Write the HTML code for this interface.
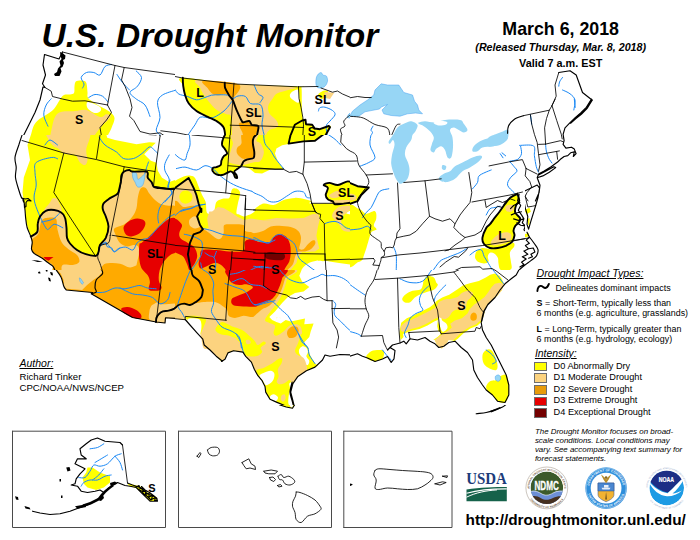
<!DOCTYPE html>
<html><head><meta charset="utf-8">
<style>
html,body{margin:0;padding:0;background:#fff;}
body{width:700px;height:540px;overflow:hidden;position:relative;font-family:"Liberation Sans",sans-serif;color:#000;}
.t{position:absolute;white-space:nowrap;line-height:1;}
#map{position:absolute;left:0;top:0;}
.lb{font-weight:bold;font-size:12.5px;transform:translate(-50%,-50%);}
.bx{position:absolute;left:533.9px;width:11.5px;height:7.8px;border:0.5px solid #6e6e6e;box-sizing:content-box;}
.lg{font-size:9.2px;left:553.6px;}
.bd{font-size:8.9px;left:536.6px;}
.ft{font-size:7.93px;font-style:italic;left:534.9px;}
u{text-decoration:underline;text-decoration-thickness:0.8px;text-underline-offset:1px;}
</style></head><body>
<svg id="map" width="700" height="540" viewBox="0 0 700 540">
<defs><clipPath id="c0"><rect x="0" y="0" width="175" height="135"/></clipPath><clipPath id="c1"><rect x="175" y="0" width="175" height="135"/></clipPath><clipPath id="c2"><rect x="350" y="0" width="175" height="135"/></clipPath><clipPath id="c3"><rect x="525" y="0" width="175" height="135"/></clipPath><clipPath id="c4"><rect x="0" y="135" width="175" height="135"/></clipPath><clipPath id="c5"><rect x="175" y="135" width="175" height="135"/></clipPath><clipPath id="c6"><rect x="350" y="135" width="175" height="135"/></clipPath><clipPath id="c7"><rect x="525" y="135" width="175" height="135"/></clipPath><clipPath id="c8"><rect x="0" y="270" width="175" height="135"/></clipPath><clipPath id="c9"><rect x="175" y="270" width="175" height="135"/></clipPath><clipPath id="c10"><rect x="350" y="270" width="175" height="135"/></clipPath><clipPath id="c11"><rect x="0" y="405" width="175" height="135"/></clipPath><clipPath id="c12"><rect x="175" y="405" width="175" height="135"/></clipPath><clipPath id="c13"><rect x="350" y="405" width="175" height="135"/></clipPath></defs>
<g clip-path="url(#c0)">
<path d="M75.8 81.5C76.8 80.5 78.9 80.5 80.5 80.5C82.1 80.5 84.4 80.5 85.5 81.5C86.6 82.5 86.7 84.4 87 86.2C87.3 88.1 87.2 90.5 87.5 92.5C87.8 94.5 86.5 96.2 88.5 98.5C90.5 100.8 95.9 103.8 99.5 106C103.1 108.2 107.5 110 110 112C112.5 114 114.2 115.3 114.5 118C114.8 120.7 112.9 124.3 111.5 128C110.1 131.7 107.1 135.5 106.2 140C105.4 144.5 119.8 152.5 106.2 155C92.7 157.5 37.6 158.1 25 155C12.4 151.9 28.6 141.8 30.5 136.2C32.4 130.8 32.5 126.4 36.2 122C40 117.6 48.6 114.3 53 110C57.4 105.7 59.7 98.6 62.5 96C65.3 93.4 68.1 95 70 94.5C71.9 94 73.2 94.4 74 93C74.8 91.6 74.2 88.2 74.5 86.2C74.8 84.3 74.8 82.5 75.8 81.5Z" fill="#ffff00"/>
<path d="M88 102C90 101.8 97.4 105 99.5 106.5C101.6 108 101.3 109.9 100.5 111C99.7 112.1 96.7 113.5 94.5 113C92.3 112.5 88.6 109.8 87.5 108C86.4 106.2 86 102.2 88 102Z" fill="#ffffff"/>
<path d="M57 114C61.2 109.8 70.1 111.7 75 111C79.9 110.3 82.1 109 86.2 110C90.4 111 96.7 116.3 100 117C103.3 117.7 104.5 114.2 106.2 114.2C108 114.2 111.5 114.8 110.5 117C109.5 119.2 103.5 123.7 100.5 127.5C97.5 131.3 93.8 135.4 92.5 140C91.2 144.6 100.4 152.5 92.5 155C84.6 157.5 52.1 158.1 45 155C37.9 151.9 48 143.1 50 136.2C52 129.4 52.8 118.2 57 114Z" fill="#fcd37f"/>
<path d="M111.5 64.5C110.4 64.8 106.9 64.8 105 66.5C103.1 68.2 101.9 74 100 75C98.1 76 96 72.9 93.8 72.5C91.5 72.1 88.6 71.7 86.5 72.5C84.4 73.3 81.7 75.6 81.2 77.5C80.8 79.4 83.8 82.2 84 84C84.2 85.8 82.8 87.3 82.5 88M88.8 97.5C89.8 97 92.7 94.7 95 94.5C97.3 94.3 100.3 95 102.5 96.2C104.7 97.5 107.1 101 108 102M136.2 71C137.1 72.1 141.3 75 141.5 77.5C141.7 80 139.4 83.8 137.5 86.2C135.6 88.8 130.2 90.4 130 92.5C129.8 94.6 133.8 96.9 136.2 99C138.8 101.1 142.7 102.1 145 105C147.3 107.9 149.2 114.6 150 116.5M117 74.5C117.9 75.8 120.4 79.9 122.5 82.5C124.6 85.1 128.3 88.8 129.5 90M51.2 98.8C50.4 99.8 47.5 102.3 46.2 105C45 107.7 43.5 111.5 43.8 115C44 118.5 47.3 124.4 48 126.2M176.2 90C174 90.8 165.6 92.9 162.5 95C159.4 97.1 157.9 98.8 157.5 102.5C157.1 106.2 160.2 112.9 160 117.5C159.8 122.1 156.2 127.1 156.2 130C156.3 132.9 159.8 134.2 160.5 135" fill="none" stroke="#1a88f5" stroke-width="1.0" stroke-linejoin="round" stroke-linecap="round"/>
<path d="M45 87.5L51.2 91.2L52.5 96.5L62.5 99L72.5 101.2L85 100.8L107.5 105M62.5 52L115 65.5L124.2 67.5L175 74.5L190 76.5M115 65.5L107.5 105M124.2 67.5L121.5 80L125 86.2L130 98.8L132 107.5L129.5 116.2L133.8 120.5L140 131.5L150 134L160 132.8L165 136.2M107.5 105L111.5 112.5L106.5 120L100 127.5L101.5 136.2M160.8 130.8L176.2 132.8" fill="none" stroke="#000" stroke-width="0.85" stroke-linejoin="round" stroke-linecap="round"/>
<path d="M62.5 52L59 59L44.5 54.5L43 65L45.5 75L42.5 83.8L45 87.5L43 87L40 100L35 112.5L28.8 125L23.8 135L20 145" fill="none" stroke="#000" stroke-width="1.15" stroke-linejoin="round" stroke-linecap="round"/>
<path d="M60 52L62.5 53L65.5 55.5L65 59L63 60L64 63L62.5 67L60.5 68L61.5 71.5L59.5 76L55 76L54 74L57 72L58 68.5L60.5 65.5L59.5 61.5L61.5 59L60.5 55.5Z" fill="#000"/>
</g>
<g clip-path="url(#c1)">
<path d="M182.8 77.8C191.4 77.5 215.7 82.5 235 84C254.3 85.5 287.4 85.8 298.5 86.5C309.6 87.2 301 84.9 301.5 88C302 91.1 301.6 100.1 301.8 105C301.9 109.9 301.9 115 302.5 117.5C303.1 120 304.9 118.6 305.5 119.8C306.1 120.9 304.9 123.4 306 124.2C307.1 125.1 310.8 124 312.2 124.8C313.7 125.5 313.5 127.8 314.8 128.5C316 129.2 317.4 129.7 319.8 129.2C322.1 128.8 327 126.3 328.8 126C330.5 125.7 331.1 125.5 330.5 127.2C329.9 129 325.9 132.5 325 136.2C324.1 140 341.6 147.7 325 150C308.4 152.3 241.9 152.5 225.2 150C208.6 147.5 225.5 138.8 225.2 135C225 131.2 225 129.6 223.5 127.2C222 124.9 219.1 122.8 216.5 121C213.9 119.2 211.1 118.4 207.8 116.8C204.4 115.1 199.7 113.2 196.5 111C193.3 108.8 190.7 106.2 188.8 103.5C186.8 100.8 185.9 97.7 185 94.8C184.1 91.8 183.6 88.6 183.2 85.8C182.9 82.9 174.1 78 182.8 77.8Z" fill="#ffff00"/>
<path d="M318 95C318.2 93.6 321.8 91.2 323.5 90.8C325.2 90.2 328.2 90.6 328 92C327.8 93.4 324.2 98.5 322.5 99C320.8 99.5 317.8 96.4 318 95Z" fill="#ffff00"/>
<path d="M290.2 94C290.8 93 292.1 91.6 293.5 91C294.9 90.4 297.6 88.4 298.5 90.2C299.4 92.1 299.6 100.6 298.8 102.2C297.9 103.9 294.9 101.1 293.5 100.2C292.1 99.4 290.8 98.3 290.2 97.2C289.7 96.2 289.7 95 290.2 94Z" fill="#ffffff"/>
<path d="M324.5 92L334.2 92.8L330 99L325 98Z" fill="#fcd37f"/>
<path d="M197 80C202.8 79.4 218.9 82.8 235 84C251.1 85.2 284.8 86.2 293.5 87.2C302.2 88.3 290 89.2 287.2 90.2C284.5 91.3 279.4 92.1 277 93.5C274.6 94.9 274.2 96.4 272.8 98.5C271.3 100.6 268.8 103.5 268.2 106C267.7 108.5 268.2 111.2 269.5 113.5C270.8 115.8 274.3 117.9 275.8 119.8C277.2 121.6 278.2 123.4 278.2 124.8C278.2 126.1 277.2 127.1 275.8 128C274.3 128.9 271.2 128.6 269.5 130C267.8 131.4 266.4 132.9 265.8 136.2C265.1 139.6 271.4 147.7 265.8 150C260.1 152.3 237.6 152.5 232 150C226.4 147.5 232.2 140.5 232 135C231.8 129.5 231.9 120.2 231 116.8C230.1 113.3 228.6 115.2 226.5 114.2C224.4 113.3 220.8 112.4 218.5 111C216.2 109.6 214.8 108.5 212.5 106C210.2 103.5 206.6 99.1 204.5 96C202.4 92.9 201.2 90.2 200 87.5C198.8 84.8 191.2 80.6 197 80Z" fill="#fcd37f"/>
<path d="M203.8 80.8C208.9 80.1 233.3 81.7 238.5 84.2C243.7 86.8 236.4 93.9 235 96C233.6 98.1 231.9 97.1 230.2 96.8C228.6 96.4 227.1 94.2 225.2 94C223.4 93.8 221.1 95.2 219 95.2C216.9 95.2 214.6 95.2 212.8 94C210.9 92.8 209.2 90.5 207.8 88.2C206.2 86 198.6 81.4 203.8 80.8Z" fill="#ffaa00"/>
<path d="M239 123.5C239.6 122.6 241.8 122.2 243.5 121.8C245.2 121.3 247.9 120.5 249.2 121C250.6 121.5 250.4 124 251.8 124.8C253.1 125.5 256.1 125 257.2 125.5C258.4 126 258.8 126.2 258.5 128C258.2 129.8 256 132.6 255.5 136.2C255 139.9 257.6 147.7 255.5 150C253.4 152.3 245.1 152.5 243 150C240.9 147.5 243.5 138.8 243 135C242.5 131.2 240.4 129.2 239.8 127.2C239.1 125.3 238.4 124.4 239 123.5Z" fill="#ffaa00"/>
<path d="M316 79.5C316.2 77.6 316.7 76.2 317.5 75C318.3 73.8 320.1 72.5 321 72.5C321.9 72.5 322.1 74.4 323 75C323.9 75.6 325.8 75.2 326.5 76.2C327.2 77.3 327.8 79.6 327.5 81.2C327.2 82.9 326.2 85.1 325 86.2C323.8 87.4 321.4 88 320 88C318.6 88 317.2 87.7 316.5 86.2C315.8 84.8 315.8 81.4 316 79.5Z" fill="#97d6f5" stroke="#45a0f0" stroke-width="0.5"/>
<path d="M347.5 117.5C346.7 116.8 348.8 113.8 350 113C351.2 112.2 354.2 112.2 355 113C355.8 113.8 356.2 116.8 355 117.5C353.8 118.2 348.3 118.2 347.5 117.5Z" fill="#97d6f5" stroke="#45a0f0" stroke-width="0.5"/>
<path d="M175 89.5C175.6 90.2 176.7 92.8 178.8 94C180.8 95.2 184.5 95.5 187.5 96.5C190.5 97.5 193.8 99.5 196.5 99.8C199.2 100 201.5 98.5 204 97.8C206.5 97 209 95.8 211.5 95.2C214 94.8 216.3 94.8 219 94.8C221.7 94.8 225.5 94.6 227.8 95.2C230 95.9 231 98.4 232.8 98.5C234.5 98.6 235.9 96.3 238 96C240.1 95.7 243.4 95.2 245.5 96.5C247.6 97.8 248 102.1 250.5 103.5C253 104.9 258.4 102.9 260.5 104.8C262.6 106.6 262.8 111.4 263 114.8C263.2 118.1 261.8 121.4 262 125C262.2 128.6 264.1 134.4 264.5 136.2M232.8 100.2C231.5 101.8 228 107.1 225.2 109.8C222.5 112.4 219 114.6 216.5 116C214 117.4 213 117.8 210.2 118C207.5 118.2 202.8 116.1 200.2 117.2C197.7 118.4 196.9 122 195 124.8C193.1 127.5 190.4 131.2 188.8 133.8C187.1 136.3 185.6 139 185 140M254.2 85.2C254.9 86.6 256.5 91.5 258 93.5C259.5 95.5 262.7 95.8 263 97.2C263.3 98.8 260.5 101.6 260 102.5M318.5 111C318.7 110.5 318.7 108.4 319.8 107.8C320.8 107.1 322.9 106.8 325 107.2C327.1 107.7 330.8 109.2 332.5 110.5C334.2 111.8 335.4 113 335 114.8C334.6 116.5 331.5 119.1 330 121C328.5 122.9 326.7 123.5 326.2 126C325.8 128.5 327.3 134.5 327.5 136.2" fill="none" stroke="#1a88f5" stroke-width="1.0" stroke-linejoin="round" stroke-linecap="round"/>
<path d="M172.5 76L182.5 78L235 84L297.5 86.8L318 86.5M321 88L332.5 92.2L337.5 91L342.5 94L350 97.2M234 83.2L230.2 136.2M230.2 125.2L263 126L303.5 127.5M298.5 86.5L299 98.5L301 107.2L302.8 117.2L303.5 124.8L302.8 136.2M349.5 115.5C348.5 116.4 344.5 119.2 343.8 121C343 122.8 345.5 124.6 345 126C344.5 127.4 340.9 127.5 340.5 129.2C340.1 131 342.2 135.1 342.5 136.2M173.8 132.2L183.8 134.2L190 135.5" fill="none" stroke="#000" stroke-width="0.85" stroke-linejoin="round" stroke-linecap="round"/>
<path d="M182.8 77.8C182.8 79.1 182.9 82.9 183.2 85.8C183.6 88.6 184.1 91.8 185 94.8C185.9 97.7 186.8 100.8 188.8 103.5C190.7 106.2 193.3 108.8 196.5 111C199.7 113.2 204.4 115.1 207.8 116.8C211.1 118.4 213.9 119.2 216.5 121C219.1 122.8 222 124.7 223.5 127.2C225 129.8 225 134.8 225.2 136.2M224.8 82.8C224.8 83.7 224.5 86.2 225.2 88.2C226 90.3 227.8 93.2 229 95.2C230.2 97.2 231.5 97.8 232.8 100.2C234 102.7 235 106.3 236.5 109.8C238 113.2 240.6 118.9 241.8 121C242.9 123.1 242.2 122.2 243.5 122.2C244.8 122.2 247.9 120.6 249.2 121C250.6 121.4 250.5 124 251.8 124.8C253 125.5 255.6 125.1 256.8 125.5C257.9 125.9 258.5 125.5 258.5 127.2C258.5 129 257 134.8 256.8 136.2M290.2 136.2L294.8 124.8L302.2 120.5L305.5 119.8L306 124.2L312.2 124.8L314.8 128.5L319.8 129.2L328.8 126L330 127.2L325 136.2" fill="none" stroke="#000" stroke-width="1.9" stroke-linejoin="round" stroke-linecap="round"/>
</g>
<g clip-path="url(#c2)">
<path d="M345 118.8L350 115.5L352.5 111.2L360 105L367.5 100L373.8 95L375 90L381.2 83.8L387.5 85L398.8 85L403.8 92.5L412.5 95L414.5 101.2L417.5 105L418.8 110L422.5 113.8L415.5 113L407.5 113.8L400 116.2L391.2 115.5L383.8 113.8L382 110L387.5 104.5L381.2 107L379.5 109L365 111.8L358.8 116.2L350 116.2L345 120Z" fill="#97d6f5" stroke="#45a0f0" stroke-width="0.5"/>
<path d="M411.2 121.2C413.5 121.5 416.8 123.3 417.5 125C418.2 126.7 416.3 129.6 415.5 131.2C414.7 132.9 413.2 133.5 412.5 135C411.8 136.5 412.3 137.9 411.2 140C410.2 142.1 407.3 145 406.2 147.5C405.2 150 404.7 152.5 405 155C405.3 157.5 407.2 160 408 162.5C408.8 165 409.6 167.3 409.5 170C409.4 172.7 408.9 176.5 407.5 178.8C406.1 181 402.9 183.3 401.2 183.8C399.6 184.2 398.8 182.9 397.5 181.2C396.2 179.6 394.8 176.7 393.8 173.8C392.7 170.8 391.5 166.9 391.2 163.8C391 160.6 391.5 158.1 392 155C392.5 151.9 394.3 147.5 394.5 145C394.7 142.5 393.8 140.2 393 140C392.2 139.8 390.7 143.5 390 143.8C389.3 144 388.1 142.9 388.8 141.2C389.4 139.6 392.3 136 393.8 133.8C395.2 131.5 395.8 129.2 397.5 127.5C399.2 125.8 401.5 124.8 403.8 123.8C406 122.7 409 121 411.2 121.2Z" fill="#97d6f5"/>
<path d="M418.8 122.5C419.8 122.1 422.3 121.2 425 121.2C427.7 121.2 431.7 122.7 435 122.5C438.3 122.3 440.8 120.4 445 120C449.2 119.6 456.9 119.4 460 120C463.1 120.6 462.5 122.1 463.8 123.8C465 125.4 467.5 128.5 467.5 130C467.5 131.5 465.2 132.5 463.8 132.5C462.3 132.5 460.4 130.8 458.8 130C457.1 129.2 455.2 127.5 453.8 127.5C452.3 127.5 450.2 128.3 450 130C449.8 131.7 452 134.6 452.5 137.5C453 140.4 453.2 144.2 453 147.5C452.8 150.8 452.2 155.8 451.2 157.5C450.3 159.2 448.5 158.8 447.5 157.5C446.5 156.2 446 151.9 445 150C444 148.1 442.7 146.5 441.2 146.2C439.8 146 437.5 147.7 436.2 148.8C435 149.8 434.7 152.3 433.8 152.5C432.8 152.7 430.8 151.5 430.5 150C430.2 148.5 431.5 145.8 432 143.8C432.5 141.7 434.1 139.6 433.8 137.5C433.4 135.4 431.7 133.1 430 131.2C428.3 129.4 425.6 127.5 423.8 126.2C421.9 125 419.6 124.4 418.8 123.8C417.9 123.1 417.7 122.9 418.8 122.5Z" fill="#97d6f5"/>
<path d="M442.5 165C443.2 164.6 445.8 165.4 446.2 166.2C446.7 167.1 445.7 169.6 445 170C444.3 170.4 442.4 169.6 442 168.8C441.6 167.9 441.8 165.4 442.5 165Z" fill="#97d6f5"/>
<path d="M438.8 178C439.2 176.8 441.9 174.9 443.8 173.8C445.6 172.6 448.1 172.5 450 171.2C451.9 170 452.9 167.7 455 166.2C457.1 164.8 459.6 164 462.5 162.5C465.4 161 469.6 158.7 472.5 157.5C475.4 156.3 478.4 155.5 480 155.5C481.6 155.5 482.4 156.3 482 157.5C481.6 158.7 479.5 160.8 477.5 162.5C475.5 164.2 472.5 166 470 167.5C467.5 169 465 169.4 462.5 171.2C460 173.1 457.5 177 455 178.8C452.5 180.5 449.8 181.6 447.5 182C445.2 182.4 442.7 181.9 441.2 181.2C439.8 180.6 438.3 179.2 438.8 178Z" fill="#97d6f5"/>
<path d="M472.5 151.2C471.9 150.4 472.5 147.9 473.8 146.2C475 144.6 477.3 142.7 480 141.2C482.7 139.8 486.7 138.8 490 137.5C493.3 136.2 497.1 134.2 500 133.8C502.9 133.3 506.3 134 507.5 135C508.7 136 508.2 138.3 507 140C505.8 141.7 502.4 144 500 145C497.6 146 495.4 145.8 492.5 146.2C489.6 146.7 485 146.7 482.5 147.5C480 148.3 479.2 150.6 477.5 151.2C475.8 151.9 473.1 152.1 472.5 151.2Z" fill="#97d6f5"/>
<path d="M488.1 138C489.4 136 493.1 135.3 495.6 134.3C498 133.2 501 132.3 503 131.5C505 130.7 506.7 129.2 507.6 129.6C508.5 130.1 508.7 132.6 508.5 134.3C508.4 136 507.9 138.3 506.7 139.8C505.4 141.4 503.3 142.4 501.1 143.5C499 144.6 495.9 145.9 493.7 146.3C491.5 146.7 489.1 147.3 488.1 145.9C487.2 144.5 486.9 139.9 488.1 138Z" fill="#97d6f5"/>
<path d="M433.8 122.5C434.5 121.9 437.8 120.8 440 120.8C442.2 120.7 446 121.4 447 122C448 122.6 447.2 123.9 446 124.5C444.8 125.1 441.8 125.5 440 125.5C438.2 125.5 436.5 125 435.5 124.5C434.5 124 433 123.1 433.8 122.5Z" fill="#ffffff"/>
<path d="M373 126.2C372.7 126.9 371.1 129 371 130C370.9 131 372.6 131.5 372.5 132.5C372.4 133.5 370.8 135.6 370.5 136.2M519.6 145.4C521.9 145.5 531 144.2 533.5 145.9C536 147.6 534 152.1 534.4 155.6C534.9 159 535.6 163.9 536.3 166.7C537 169.4 538.1 171.3 538.5 172.2M530.4 114.8L531.1 119.4L531.7 124.1M545.6 144.4C545.7 145.7 545.9 149.4 546.5 151.9C547.1 154.3 548.3 157.4 549.3 159.3C550.2 161.1 551.6 162.3 552 163M509.4 161.1C510.2 162 512.8 165 514.1 166.7C515.3 168.4 517.5 169.4 516.9 171.3C516.2 173.1 511.9 175.5 510.4 177.8C508.8 180.1 507 182.7 507.6 185.2C508.2 187.7 512.4 190.7 514.1 192.6C515.8 194.4 517.2 195.7 517.8 196.3M520.6 146.3C520.7 147.5 521.9 151.5 521.5 153.7C521 155.9 519.6 158 517.8 159.3C515.9 160.5 511.6 160.8 510.4 161.1M500.2 153.7L503 157.8M502 152.8L505.7 155.9M574.3 99.1L575.2 107.4" fill="none" stroke="#1a88f5" stroke-width="1.0" stroke-linejoin="round" stroke-linecap="round"/>
<path d="M348.8 98L357.5 96.5L365 97.5L371.2 97.5M348.8 116.2C350.4 116.4 356 116.6 358.8 117C361.5 117.4 362.3 117.5 365 118.8C367.7 120 371.2 122.9 375 124.5C378.8 126.1 385 126.1 387.5 128.2C390 130.4 389.6 136 390 137.5M391.2 136.2C392.1 134.5 394.8 127.5 396.2 125.5C397.7 123.5 399.4 124.5 400 124.2M523.3 115.7L549.3 110.2L552 105.6L555.2 99.1M530.4 114.8L531.7 124.1L534.4 134.3L537.2 142.6L538.5 153.7L540 164.8L538.5 171.3M549.3 110.2L546.5 118.5L544.6 127.8L545.2 137L545.6 144.4M552 105.6L556.7 120.4L561.3 134.3L562.2 138.9M538.5 144.4L545.6 144.1L560.4 140.7L563.1 141.7M539.1 154.6L559.4 150.9M556.7 151.5L557.6 159.3M526.1 168.5L537.2 174.1M526.1 168.5L525.2 175.9L529.8 181.5L531.7 187L527 192.6L525.2 196.3L528 200.9M489.1 165.9L508.5 162L522.4 159.6L526.1 168.5" fill="none" stroke="#000" stroke-width="0.85" stroke-linejoin="round" stroke-linecap="round"/>
<path d="M507.6 133.3C507.7 132.1 507.4 128.2 508.5 125.9C509.6 123.6 511.6 121.1 514.1 119.4C516.5 117.7 521.8 116.4 523.3 115.7M591.5 99.1L586.3 107.4L580.7 113L575.2 117.6L569.6 123.1L565 127.8L563.1 134.3L564.1 140.7L563.1 144.4L565.9 148.1L571.5 147.2L574.3 149.1L576.1 153.7L573.3 156.5L574.3 151.9L570.6 152.8L567.8 155.6L564.1 156.5L560.4 159.3L557.6 162L551.1 166.7L543.7 171.3L538.5 174.1L537.2 177.8L540 185.2L539.1 192.6L535.4 200.9M538.5 175L545.6 171.3L553.9 166.7L555.7 167.6L549.3 172.2L542.8 175.9L537.2 177.8" fill="none" stroke="#000" stroke-width="1.15" stroke-linejoin="round" stroke-linecap="round"/>
<path d="M591.5 99.1L586.3 107.4L580.7 113L575.2 117.6L569.6 123.1L570.7 124.1L576.3 118.9L582 114.4L587.6 108.7L593 100Z" fill="#000000"/>
</g>
<g clip-path="url(#c3)">
<path d="M488.1 138C489.4 136 493.1 135.3 495.6 134.3C498 133.2 501 132.3 503 131.5C505 130.7 506.7 129.2 507.6 129.6C508.5 130.1 508.7 132.6 508.5 134.3C508.4 136 507.9 138.3 506.7 139.8C505.4 141.4 503.3 142.4 501.1 143.5C499 144.6 495.9 145.9 493.7 146.3C491.5 146.7 489.1 147.3 488.1 145.9C487.2 144.5 486.9 139.9 488.1 138Z" fill="#97d6f5"/>
<path d="M562.5 77.5C562 78.2 560.1 80.5 559.5 82C558.9 83.5 558.9 85.5 558.8 86.2M562.5 90C563.8 90.6 567.9 92.1 570 93.8C572.1 95.4 574.4 97.3 575 100C575.6 102.7 574 108.3 573.8 110M519.6 145.4C521.9 145.5 531 144.2 533.5 145.9C536 147.6 534 152.1 534.4 155.6C534.9 159 535.6 163.9 536.3 166.7C537 169.4 538.1 171.3 538.5 172.2M530.4 114.8L531.1 119.4L531.7 124.1M545.6 144.4C545.7 145.7 545.9 149.4 546.5 151.9C547.1 154.3 548.3 157.4 549.3 159.3C550.2 161.1 551.6 162.3 552 163M509.4 161.1C510.2 162 512.8 165 514.1 166.7C515.3 168.4 517.5 169.4 516.9 171.3C516.2 173.1 511.9 175.5 510.4 177.8C508.8 180.1 507 182.7 507.6 185.2C508.2 187.7 512.4 190.7 514.1 192.6C515.8 194.4 517.2 195.7 517.8 196.3M520.6 146.3C520.7 147.5 521.9 151.5 521.5 153.7C521 155.9 519.6 158 517.8 159.3C515.9 160.5 511.6 160.8 510.4 161.1M500.2 153.7L503 157.8M502 152.8L505.7 155.9M574.3 99.1L575.2 107.4" fill="none" stroke="#1a88f5" stroke-width="1.0" stroke-linejoin="round" stroke-linecap="round"/>
<path d="M558.8 72.5L555 85L556.2 96.2L552 105.5M523.3 115.7L549.3 110.2L552 105.6L555.2 99.1M530.4 114.8L531.7 124.1L534.4 134.3L537.2 142.6L538.5 153.7L540 164.8L538.5 171.3M549.3 110.2L546.5 118.5L544.6 127.8L545.2 137L545.6 144.4M552 105.6L556.7 120.4L561.3 134.3L562.2 138.9M538.5 144.4L545.6 144.1L560.4 140.7L563.1 141.7M539.1 154.6L559.4 150.9M556.7 151.5L557.6 159.3M526.1 168.5L537.2 174.1M526.1 168.5L525.2 175.9L529.8 181.5L531.7 187L527 192.6L525.2 196.3L528 200.9M489.1 165.9L508.5 162L522.4 159.6L526.1 168.5" fill="none" stroke="#000" stroke-width="0.85" stroke-linejoin="round" stroke-linecap="round"/>
<path d="M558.8 72.5L570 70.8L576.2 75L582.5 92.5L592 100M507.6 133.3C507.7 132.1 507.4 128.2 508.5 125.9C509.6 123.6 511.6 121.1 514.1 119.4C516.5 117.7 521.8 116.4 523.3 115.7M591.5 99.1L586.3 107.4L580.7 113L575.2 117.6L569.6 123.1L565 127.8L563.1 134.3L564.1 140.7L563.1 144.4L565.9 148.1L571.5 147.2L574.3 149.1L576.1 153.7L573.3 156.5L574.3 151.9L570.6 152.8L567.8 155.6L564.1 156.5L560.4 159.3L557.6 162L551.1 166.7L543.7 171.3L538.5 174.1L537.2 177.8L540 185.2L539.1 192.6L535.4 200.9M538.5 175L545.6 171.3L553.9 166.7L555.7 167.6L549.3 172.2L542.8 175.9L537.2 177.8" fill="none" stroke="#000" stroke-width="1.15" stroke-linejoin="round" stroke-linecap="round"/>
<path d="M591.5 99.1L586.3 107.4L580.7 113L575.2 117.6L569.6 123.1L570.7 124.1L576.3 118.9L582 114.4L587.6 108.7L593 100Z" fill="#000000"/>
</g>
<g clip-path="url(#c4)">
<path d="M32.5 130L27.5 145L30 160L23.8 177.5L22.5 192.5L25 210L26.2 222.5L30.8 236.5L37.2 232L50 240L75 260L105 260L125 210L175 210L182.5 183.8L182.5 178.8L175 180L169.2 182L162 177.8L157.8 170.8L156.5 162.8L150.8 160.8L144.2 154.2L152 146.5L155.8 142.8L149.2 142.2L136.5 144.2L126.5 142.2L115 140L107.2 137.8L105 129.2Z" fill="#ffff00"/>
<path d="M48.8 130C42.2 131.7 47.9 137.3 48.8 140C49.6 142.7 52.3 144.9 53.8 146.2C55.2 147.6 55.6 146.8 57.5 148C59.4 149.2 62.1 152.6 65 153.8C67.9 154.9 72.5 153.5 75 155C77.5 156.5 78.3 160.8 80 162.5C81.7 164.2 83.8 165.4 85 165C86.2 164.6 87.3 162.5 87.5 160C87.7 157.5 86.2 155 86.2 150C86.3 145 94.2 133.3 88 130C81.8 126.7 55.3 128.3 48.8 130Z" fill="#fcd37f"/>
<path d="M44.5 211.5C42.7 209.8 48.5 204.8 50 202.5C51.5 200.2 51.9 198.3 53.2 198C54.6 197.7 56.7 198 58 200.5C59.3 203 63.2 211.2 61 213C58.8 214.8 46.3 213.2 44.5 211.5Z" fill="#fcd37f"/>
<path d="M30.8 236.5C31.6 234.8 36.1 234.2 37.2 232C38.4 229.8 37.3 226.1 37.8 223.5C38.2 220.9 38.7 218.6 40 216.5C41.3 214.4 43.4 211.8 45.8 210.8C48.1 209.7 51.6 209.7 54.2 210C56.9 210.3 59.7 211.5 61.5 212.8C63.3 214 64.2 215.2 65 217.8C65.8 220.2 66.2 224.4 66.5 227.8C66.8 231.1 66.4 235.1 67 237.8C67.6 240.4 68.3 241.5 70 243.5C71.7 245.5 74.4 248.2 77 250C79.6 251.8 82.6 253.3 85.8 254.2C88.9 255.2 93.6 256.1 95.8 255.8C97.9 255.4 97.8 253.8 98.5 252C99.2 250.2 98.8 247.4 100 245C101.2 242.6 104.3 240.8 105.8 237.8C107.2 234.7 108.5 230 108.5 226.5C108.5 223 106.7 219.4 105.8 216.5C104.8 213.6 103.1 211.4 102.8 209.2C102.4 207.1 102.5 205.2 103.5 203.5C104.5 201.8 106.5 200.7 108.5 199.2C110.5 197.8 114.1 196.2 115.8 195C117.4 193.8 117.7 194.2 118.5 192C119.3 189.8 120.2 184.8 120.8 182C121.2 179.2 120.9 176.8 121.5 175C122.1 173.2 123 172.3 124.2 171.5C125.5 170.7 128 170 129.2 170C130.5 170 129.2 171.2 132 171.5C134.8 171.8 143.1 171.2 145.8 171.5C148.4 171.8 147.4 172.5 147.8 173.5C148.1 174.5 147.1 176.3 147.8 177.8C148.4 179.2 150.5 180.5 151.5 182C152.5 183.5 152.7 185.5 153.5 186.5C154.3 187.5 152.9 187.4 156.5 187.8C160.1 188.1 170.2 188.6 175 188.5C179.8 188.4 183.3 170.9 185 187C186.7 203.1 205.8 268.7 185 285C164.2 301.3 81.5 287.2 60 285C38.5 282.8 57 275.1 55.8 272C54.5 268.9 54.2 267.9 52.8 266.2C51.3 264.6 48.9 263.4 47 262C45.1 260.6 43.6 259.2 41.5 257.8C39.4 256.3 35.9 254.9 34.2 253.5C32.6 252.1 31.8 251.2 31.5 249.2C31.2 247.3 32.4 244.1 32.2 242C32.1 239.9 29.9 238.2 30.8 236.5Z" fill="#fcd37f"/>
<path d="M32.2 239.2C33.3 237.8 37 236.6 38.5 233.5C40 230.4 39.8 223.4 41.5 220.8C43.2 218.1 46.1 218.1 48.5 217.8C50.9 217.4 54.3 217.3 55.8 218.5C57.2 219.7 56.7 223 57 225C57.3 227 57 227.9 57.8 230.8C58.5 233.6 59.7 238.9 61.5 242C63.3 245.1 65.9 247.1 68.5 249.2C71.1 251.4 75.2 252.9 77 255C78.8 257.1 80 260.3 79.2 262C78.5 263.7 75.5 264.5 72.8 265C70 265.5 64.6 263.8 62.8 265C60.9 266.2 61.7 268.7 61.5 272C61.3 275.3 63.4 282.8 61.5 285C59.6 287.2 51.5 288.1 50 285C48.5 281.9 53.2 270.1 52.8 266.2C52.2 262.4 48.9 263.4 47 262C45.1 260.6 43.6 259.2 41.5 257.8C39.4 256.3 35.9 254.9 34.2 253.5C32.6 252.1 31.8 251.2 31.5 249.2C31.2 247.3 32.1 243.7 32.2 242C32.4 240.3 31.2 240.7 32.2 239.2Z" fill="#ffaa00"/>
<path d="M102.8 265.5C104 263.5 107.1 263.3 110 263C112.9 262.7 116.7 263 120 263.8C123.3 264.5 126.7 267.3 130 267.5C133.3 267.7 138.3 263.8 140 265C141.7 266.2 146.2 273.3 140 275C133.8 276.7 109 276.6 102.8 275C96.5 273.4 101.5 267.5 102.8 265.5Z" fill="#ffaa00"/>
<path d="M140.7 188.6C142 187 144.3 187 145.7 187.9C147.1 188.7 147.7 191.5 149.3 193.6C150.8 195.6 153 198.2 155 200C157 201.8 159.2 203.3 161.4 204.3C163.7 205.2 166.4 205.5 168.6 205.7C170.7 206 172.1 205.4 174.3 205.7C176.4 206.1 178.6 208 181.4 207.9C184.3 207.7 188.3 205 191.4 205C194.5 205 197.1 207.3 200 207.9C202.9 208.5 207.1 196.5 208.6 208.6C210 220.6 219.8 268.1 208.6 280C197.4 291.9 153 285 141.4 280C129.9 275 140.5 255.8 139.3 250C138.1 244.2 136.3 245.6 134.3 245C132.3 244.4 129.5 246.8 127.1 246.4C124.8 246.1 121.9 244.8 120 242.9C118.1 241 116.7 237.4 115.7 235C114.8 232.6 112.9 230.4 114.3 228.6C115.7 226.8 121.3 226.2 124.3 224.3C127.3 222.4 130.1 219.8 132.1 217.1C134.2 214.5 135.5 211.9 136.4 208.6C137.4 205.2 137.1 200.5 137.9 197.1C138.6 193.8 139.4 190.1 140.7 188.6Z" fill="#ffaa00"/>
<path d="M43.5 257L53.5 257L48.5 260.8L45 259Z" fill="#e60000"/>
<path d="M148.6 237.1C151.2 234.8 154 231.4 157.1 228.6C160.2 225.7 164.3 221.8 167.1 220C170 218.2 171.7 217.6 174.3 217.9C176.9 218.1 182 219.6 182.9 221.4C183.7 223.2 179.8 226 179.3 228.6C178.8 231.2 178.7 234.8 180 237.1C181.3 239.5 184.8 241.4 187.1 242.9C189.5 244.3 192.1 244.8 194.3 245.7C196.4 246.7 197.6 247.9 200 248.6C202.4 249.3 207.1 247.1 208.6 250C210 252.9 211.5 262.5 208.6 265.7C205.6 268.9 194.2 269.7 190.7 269.1C187.2 268.6 188.6 264.7 187.4 262.6C186.2 260.4 185.1 257.8 183.6 256.1C182.1 254.5 180.4 253.2 178.4 252.9C176.5 252.5 174.2 252.7 171.9 254.1C169.5 255.5 166.2 258.6 164.1 261.3C162.1 264 160.5 267.2 159.6 270.4C158.7 273.7 158.5 277.9 158.9 280.7C159.2 283.5 161.6 285.7 161.6 287.3C161.6 288.9 160.9 290 158.9 290.4C156.8 290.9 150.6 291.3 149.1 289.9C147.6 288.5 150.1 284.4 149.9 282C149.6 279.6 149.3 277.9 147.9 275.6C146.5 273.2 142.9 270.9 141.4 267.9C140 264.8 139.5 261.3 139.1 257.4C138.8 253.5 139 246.9 139.4 244.4C139.8 242 139.9 244.1 141.4 242.9C143 241.6 146 239.5 148.6 237.1Z" fill="#e60000"/>
<path d="M123.6 227.1C124 225 126.3 222.9 128.6 221.4C130.8 220 134.5 218.7 137.1 218.6C139.8 218.5 143 219.5 144.3 220.7C145.6 221.9 145.7 223.7 145 225.7C144.3 227.7 142.3 231.1 140 232.9C137.7 234.6 133.8 236.2 131.4 236.4C129 236.7 127 235.8 125.7 234.3C124.4 232.7 123.1 229.3 123.6 227.1Z" fill="#e60000"/>
<path d="M132.8 172C133.4 171.3 135.7 172.3 136.5 173.5C137.3 174.7 136.8 178.8 137.8 179.2C138.7 179.8 140.8 177.3 142 176.5C143.2 175.7 144.9 172.8 145 174.2C145.1 175.7 144 182.9 142.8 185C141.5 187.1 139 187.5 137.8 187C136.5 186.5 135.8 183.5 135 182C134.2 180.5 133.1 179.4 132.8 177.8C132.4 176.1 132.1 172.7 132.8 172Z" fill="#97d6f5" stroke="#45a0f0" stroke-width="0.5"/>
<path d="M100 246.4C101 245.8 104 242.7 105.7 242.9C107.4 243 108.6 245.7 110 247.1C111.4 248.6 112.9 251.2 114.3 251.4C115.7 251.7 116.7 249.3 118.6 248.6C120.5 247.9 123.3 246.9 125.7 247.1C128.1 247.4 131 250.7 132.9 250C134.8 249.3 135.5 244.6 137.1 242.9C138.8 241.1 141 240.1 142.9 239.3C144.8 238.5 146.2 239.6 148.6 237.9C151 236.1 154 231.8 157.1 228.6C160.2 225.4 164.3 221 167.1 218.6C170 216.2 171.7 215.6 174.3 214.3C176.9 213 180 211.7 182.9 210.7C185.7 209.8 188.6 209.5 191.4 208.6C194.3 207.6 198.6 205.6 200 205M158.6 222.9C158.5 221.7 157.6 218.3 157.9 215.7C158.1 213.1 158.7 209.8 160 207.1C161.3 204.5 163.7 202.3 165.7 200C167.7 197.7 171.7 195.7 172.1 193.6C172.6 191.4 168.9 189.4 168.6 187.1C168.2 184.9 169.8 181.2 170 180M99.2 137.2C100.2 138.5 102.1 142.5 105 145C107.9 147.5 113.4 149.8 116.5 152C119.6 154.2 120.7 157.4 123.5 158.5C126.3 159.6 130.4 159.3 133.5 158.5C136.6 157.7 139.4 155.4 142 153.5C144.6 151.6 147.3 147.7 149.2 147C151.2 146.3 152.1 148.2 153.5 149.2C154.9 150.3 157 152.8 157.8 153.5M148.5 162C148.2 163 147.1 165.8 146.5 167.8C145.9 169.7 145.2 172.5 145 173.5M169.2 155C168.5 156.4 165.7 160.9 165 163.5C164.3 166.1 164.3 168.1 165 170.8C165.7 173.4 168.8 176.4 169.2 179.2C169.7 182.1 167.2 185.6 167.8 187.8C168.2 189.9 172.7 189.6 172.2 192C171.8 194.4 166.2 200.3 165 202M57.5 158.8C56.5 158.5 54.8 156.9 51.2 157.5C47.7 158.1 39 160 36.2 162.5C33.5 165 35 168.8 35 172.5C35 176.2 36.4 181.2 36.2 185C36.1 188.8 34.5 191.9 34.2 195C34 198.1 34 199.9 35 203.5C36 207.1 38.2 212.5 40 216.5C41.8 220.5 44.3 225.6 45.8 227.8C47.2 229.9 47.1 229.8 48.5 229.2C49.9 228.7 51.9 224.5 54.2 224.2C56.6 224 61.3 227.2 62.8 227.8M41.5 222C43.4 221.5 49.8 220.7 52.8 219.2C55.7 217.8 58.2 214.5 59.2 213.5M57.5 145C56.2 144.2 52.1 140 50 140C47.9 140 45.8 144.2 45 145M100 245.8C101 245.1 104.6 241.9 105.8 242C106.9 242.1 106 245.5 107 246.5C108 247.5 110.3 246.8 111.5 247.8C112.7 248.7 112.8 252 114.2 252C115.7 252 119 248.5 120 247.8" fill="none" stroke="#1a88f5" stroke-width="1.0" stroke-linejoin="round" stroke-linecap="round"/>
<path d="M112.1 235.3L167.1 243.9L200 249.3M173.7 189.7L168.6 225L162 272.9M154.3 186.4L174.3 189.7L200 192.1M22 140.5L63.8 153L96.2 159.5L124.2 166.8L155 171.5M101.5 125L96.5 158.5M160.8 130.8L155 171.5L153.5 186.5L175 189.5L195 190.8M137.8 125L140.8 130.8L142.2 134.2L156.5 135L157.8 133.5L160.2 135.8M160.8 130.8L195 135.8M63.8 153L53.8 192.5L95.8 256.5M124.2 166.8L110.2 235.5M110.2 235.5C110 236.7 110.2 241 108.5 242.8C106.8 244.5 101.7 244.2 100 245.8C98.3 247.3 98.9 250 98.5 252C98.1 254 97.5 255.8 97.8 257.8C98 259.7 99.2 261.1 100 263.5C100.8 265.9 102.3 270.6 102.8 272" fill="none" stroke="#000" stroke-width="0.85" stroke-linejoin="round" stroke-linecap="round"/>
<path d="M22.5 133.8C21.9 135.6 20 141 18.8 145C17.5 149 15.4 153.8 15 157.5C14.6 161.2 16.2 164.2 16.2 167.5C16.3 170.8 15.1 173.8 15.5 177.5C15.9 181.2 17.8 186.6 18.8 190C19.8 193.4 20.7 196 21.5 197.8C22.3 199.5 23.2 198.5 23.8 200.5C24.3 202.5 24.7 206.9 25 210C25.3 213.1 25.4 216.3 25.8 219.2C26.1 222.2 26.4 224.9 27.2 227.8C28.1 230.6 29.9 234.1 30.8 236.5C31.6 238.9 32.1 239.9 32.2 242C32.4 244.1 31.2 247.3 31.5 249.2C31.8 251.2 32.6 252.1 34.2 253.5C35.9 254.9 39.4 256.3 41.5 257.8C43.6 259.2 45.1 260.6 47 262C48.9 263.4 51.3 264.6 52.8 266.2C54.2 267.9 55.2 271 55.8 272M22 198L25 199L28 198.5L31 201L27.5 200.5L26 202.5L26 206.5L24.5 207.5L24.2 203L23 200.5" fill="none" stroke="#000" stroke-width="1.15" stroke-linejoin="round" stroke-linecap="round"/>
<path d="M30.8 236.5C31.8 235.8 36.1 234.2 37.2 232C38.4 229.8 37.3 226.1 37.8 223.5C38.2 220.9 38.7 218.6 40 216.5C41.3 214.4 43.4 211.8 45.8 210.8C48.1 209.7 51.6 209.7 54.2 210C56.9 210.3 59.7 211.5 61.5 212.8C63.3 214 64.2 215.2 65 217.8C65.8 220.2 66.2 224.4 66.5 227.8C66.8 231.1 66.4 235.1 67 237.8C67.6 240.4 68.3 241.5 70 243.5C71.7 245.5 74.4 248.2 77 250C79.6 251.8 82.6 253.3 85.8 254.2C88.9 255.2 93.6 256.1 95.8 255.8C97.9 255.4 97.8 253.8 98.5 252C99.2 250.2 98.8 247.4 100 245C101.2 242.6 104.3 240.8 105.8 237.8C107.2 234.7 108.5 230 108.5 226.5C108.5 223 106.7 219.4 105.8 216.5C104.8 213.6 103.1 211.4 102.8 209.2C102.4 207.1 102.5 205.2 103.5 203.5C104.5 201.8 106.5 200.7 108.5 199.2C110.5 197.8 114.1 196.2 115.8 195C117.4 193.8 117.7 194.2 118.5 192C119.3 189.8 120.2 184.8 120.8 182C121.2 179.2 120.9 176.8 121.5 175C122.1 173.2 123 172.3 124.2 171.5C125.5 170.7 128 170 129.2 170C130.5 170 129.2 171.2 132 171.5C134.8 171.8 143.1 171.2 145.8 171.5C148.4 171.8 147.4 172.5 147.8 173.5C148.1 174.5 147.1 176.3 147.8 177.8C148.4 179.2 150.5 180.5 151.5 182C152.5 183.5 152.7 185.5 153.5 186.5C154.3 187.5 152.9 187.4 156.5 187.8C160.1 188.1 169.7 190 175 188.5C180.3 187 186.2 180.2 188.5 178.5" fill="none" stroke="#000" stroke-width="1.9" stroke-linejoin="round" stroke-linecap="round"/>
<path d="M31.5 260L37.5 260.5L42.8 261.8L37.5 262Z" fill="#000"/>
</g>
<g clip-path="url(#c5)">
<path d="M225.3 133.6L222.9 139.3L222.1 145L225 149.3L227.1 153.6L223.6 156.4L221.4 160.7L220.7 165L216.4 167.1L212.9 167.9L212.9 171.4L216.4 174.3L222.1 175L227.1 172.9L230.7 171.4L233.6 173.6L235 177.1L237.1 177.9L236.4 175L234.3 171.4L237.9 168.6L241.4 165.7L249.3 168.6L255 172.9L262.1 173.6L269.3 170L272.9 169L283.6 169L277.9 161.4L275 153.6L276.4 148.6L282.1 145.3L288.6 143.9L303.6 141.4L315 140.7L323.6 133.6Z" fill="#ffff00"/>
<path d="M173.6 180.7C173.8 171.7 173.3 181.4 175 180.7C176.7 180 181 177.3 183.6 176.4C186.2 175.6 188.8 175.5 190.7 175.7C192.6 176 193.7 176.1 195 177.9C196.3 179.6 197.4 183.6 198.6 186.4C199.8 189.3 201 192.4 202.1 195C203.3 197.6 204.9 199.2 205.7 202.1C206.5 205.1 205.8 211.1 207.1 212.9C208.5 214.6 212 214.6 213.6 212.9C215.1 211.1 214.8 204.5 216.4 202.1C218.1 199.8 221.4 199.3 223.6 198.6C225.7 197.9 227.9 199.4 229.3 197.9C230.7 196.3 231 190.8 232.1 189.3C233.3 187.7 235.1 188.1 236.4 188.6C237.7 189 239.5 190.6 240 192.1C240.5 193.7 239.6 196 239.3 197.9C238.9 199.8 238.3 201.1 237.9 203.6C237.4 206.1 236.3 211.1 236.4 212.9C236.5 214.6 237.4 213.7 238.6 214.3C239.8 214.9 242.3 216.2 243.6 216.4C244.9 216.7 245.2 216.1 246.4 215.7C247.6 215.4 249.3 215 250.7 214.3C252.1 213.5 254.3 212 255 211.1C255.7 210.2 253.6 210.1 255 208.9C256.4 207.6 260.5 204.2 263.6 203.6C266.7 202.9 270.2 205.6 273.6 205C276.9 204.4 280 201.2 283.6 200C287.1 198.8 291.4 198 295 197.9C298.6 197.7 302.3 198.7 305 199.3C307.7 199.9 310.2 200.7 311.4 201.4C312.6 202.1 304.9 203.3 312.1 203.6C319.4 203.9 346 203.3 355 203.3C364 203.2 364.5 193.8 366.4 203.3C368.3 212.7 373.3 250.4 366.4 260C359.5 269.6 333.3 261 325 261.1C316.7 261.3 319.3 260.3 316.4 260.7C313.6 261.1 310.4 262 307.9 263.6C305.4 265.1 302.9 267.6 301.4 270C300 272.4 299.6 272.9 299.3 277.9C298.9 282.9 323.3 296.3 299.3 300C275.2 303.7 176 310.8 155 300C134 289.2 170.5 254.9 173.6 235C176.7 215.1 173.3 189.8 173.6 180.7Z" fill="#ffff00"/>
<path d="M323.6 185C323.8 184.2 326.9 182.9 329.3 182.9C331.7 182.9 334.8 185.2 337.9 185C341 184.8 345 181.5 347.9 181.4C350.7 181.3 352.4 183.7 355 184.3C357.6 184.9 362.1 182 363.6 185C365 188 366.9 199 363.6 202.1C360.2 205.2 348.3 203.2 343.6 203.6C338.8 203.9 336.8 204.6 335 204.3C333.2 203.9 334 202.3 332.9 201.4C331.7 200.6 329 200.4 327.9 199.3C326.7 198.2 325.7 196.9 325.7 195C325.7 193.1 328.2 189.5 327.9 187.9C327.5 186.2 323.3 185.8 323.6 185Z" fill="#ffff00"/>
<path d="M346.4 212.9C347.4 211.9 353.1 209.3 355 208.6C356.9 207.9 357.4 207.6 357.9 208.6C358.3 209.5 359.3 213.3 357.9 214.3C356.4 215.2 351.2 214.5 349.3 214.3C347.4 214 345.5 213.8 346.4 212.9Z" fill="#ffffff"/>
<path d="M232.1 133.6C228.2 135.2 233.2 140.2 232.9 143.6C232.5 146.9 230.6 150.5 230 153.6C229.4 156.7 227.1 160.2 229 162.1C230.9 164.1 238 165 241.4 165.3C244.8 165.5 247 164.1 249.3 163.6C251.5 163 253.1 162.6 255 162.1C256.9 161.7 259.2 162.4 260.7 160.7C262.2 159 263.9 155 263.9 152.1C263.9 149.3 262 145.5 260.7 143.6C259.5 141.7 257.1 142.4 256.4 140.7C255.8 139 260.8 134.8 256.7 133.6C252.7 132.4 236.1 131.9 232.1 133.6Z" fill="#fcd37f"/>
<path d="M173.6 188.1L175 187.9L188.6 177.9L193.6 187.9L196.4 195L198.6 203.6L201.4 212.1L201.4 208.6L197.1 216.4L200 225L202.9 229.3L208.6 227.9L207.1 218.6L209.3 211.4L212.1 211.4L217.9 207.1L223.6 207.9L232.1 212.9L237.9 217.1L244.3 220L250.7 218.6L260.7 220L275 221.4L263.6 220L276.4 217.9L290.7 218.6L303.6 217.9L312.1 214.3L317.9 213.6L320 218.6L317.9 227.1L316.4 235.7L317.9 242.9L319.3 248.6L315 251.4L302.1 252.1L297.9 257.1L296.4 262.9L289.3 271.4L286.4 277.9L286.4 300L173.6 306.4Z" fill="#fcd37f"/>
<path d="M332.1 215.7C332.1 214 333.6 211.5 335 210C336.4 208.5 337.6 207 340.7 206.4C343.8 205.8 352.4 205.6 353.6 206.4C354.8 207.3 349.8 209.6 347.9 211.4C346 213.2 343.2 215.2 342.1 217.1C341.1 219 341.1 221.1 341.4 222.9C341.8 224.6 342 226.5 344.3 227.9C346.5 229.2 353.2 230 355 230.7C356.8 231.4 356.9 232.1 355 232.1C353.1 232.1 346.1 231.8 343.6 230.7C341.1 229.6 341.4 227.5 340 225.7C338.6 223.9 336.3 221.7 335 220C333.7 218.3 332.1 217.4 332.1 215.7Z" fill="#fcd37f"/>
<path d="M329.3 195C330.2 193.8 336.2 190.5 337.9 190.7C339.5 191 340.2 195.2 339.3 196.4C338.3 197.6 333.8 198.1 332.1 197.9C330.5 197.6 328.3 196.2 329.3 195Z" fill="#fcd37f"/>
<path d="M332.1 200.7C335.5 200 349.8 200.1 355 200C360.2 199.9 362.1 199.4 363.6 200C365 200.6 368.3 202.9 363.6 203.6C358.8 204.3 340.2 204.8 335 204.3C329.8 203.8 328.8 201.4 332.1 200.7Z" fill="#fcd37f"/>
<path d="M179.3 196.4C179.4 194.6 180.7 192.4 182.1 191.4C183.6 190.5 186.2 190.1 187.9 190.7C189.5 191.3 191.5 193.3 192.1 195C192.7 196.7 192.4 199.3 191.4 200.7C190.5 202.1 188.1 203.3 186.4 203.6C184.8 203.8 182.6 203.3 181.4 202.1C180.2 201 179.2 198.2 179.3 196.4Z" fill="#ffff00"/>
<path d="M242.1 133.6C239.8 135.2 242.3 141.2 241.4 143.6C240.6 146 237.9 146.2 237.1 147.9C236.4 149.5 236.3 151.8 237.1 153.6C238 155.4 240.4 157.7 242.1 158.6C243.9 159.4 246 158.8 247.9 158.6C249.8 158.3 252.5 158.2 253.6 157.1C254.6 156.1 254.4 154.4 254.3 152.1C254.2 149.9 253 146 252.9 143.6C252.7 141.2 253.1 139.5 253.6 137.9C254 136.2 257.6 134.3 255.7 133.6C253.8 132.9 244.5 131.9 242.1 133.6Z" fill="#ffaa00"/>
<path d="M173.6 205.7C175.2 193.9 180.5 207.1 183.6 207.1C186.7 207.1 189.5 205.8 192.1 205.7C194.8 205.6 197.7 206 199.3 206.4C200.8 206.9 201.8 206.9 201.4 208.6C201.1 210.2 198.5 215.1 197.1 216.4C195.8 217.7 194.9 215.8 193.6 216.4C192.3 217 189.9 218.5 189.3 220C188.7 221.5 189 224.3 190 225.7C191 227.1 193.2 228.3 195 228.6C196.8 228.8 199.4 227 200.7 227.1C202 227.3 203 228.5 202.9 229.3C202.7 230.1 201.5 231.3 200 232.1C198.5 233 195.2 232.5 193.6 234.3C191.9 236.1 191 239.5 190 242.9C189 246.2 187.9 250.5 187.9 254.3C187.9 258.1 189.2 261.8 190 265.7C190.8 269.6 195.6 275.8 192.9 277.9C190.1 279.9 176.8 289.9 173.6 277.9C170.4 265.8 171.9 217.5 173.6 205.7Z" fill="#ffaa00"/>
<path d="M202.9 229.3C204.4 229.4 207 231.3 209.3 232.9C211.5 234.4 214.5 237.6 216.4 238.6C218.3 239.5 219.5 239.5 220.7 238.6C221.9 237.6 223 235.1 223.6 232.9C224.2 230.6 222.9 226.4 224.3 225C225.7 223.6 228.9 224.3 232.1 224.3C235.4 224.3 241.4 223.9 243.6 225C245.7 226.1 243.8 229.5 245 230.7C246.2 231.9 249 231.7 250.7 232.1C252.4 232.5 252.9 233.4 255 233.1C257.1 232.9 261 231.8 263.6 230.7C266.2 229.6 268.1 227.3 270.7 226.4C273.3 225.6 276 225.6 279.3 225.7C282.6 225.8 287.6 226.3 290.7 227.1C293.8 228 296.2 229.3 297.9 230.7C299.5 232.1 300.2 233.9 300.7 235.7C301.2 237.5 301 239.3 300.7 241.4C300.5 243.6 298.8 247.3 299.3 248.6C299.8 249.9 302.1 250 303.6 249.3C305 248.6 306.4 245.7 307.9 244.3C309.3 242.9 311 241.3 312.1 240.7C313.3 240.1 314.5 240.1 315 240.7C315.5 241.3 315.7 242.9 315 244.3C314.3 245.7 312.4 248.1 310.7 249.3C309 250.5 307.1 251 305 251.4C302.9 251.9 299.5 251.2 297.9 252.1C296.2 253.1 295.8 255.1 295 257.1C294.2 259.2 294.3 261.9 292.9 264.3C291.4 266.7 288 269.2 286.4 271.4C284.9 273.7 284 273.1 283.6 277.9C283.1 282.6 299.3 296.3 283.6 300C267.9 303.7 204.4 303.7 189.3 300C174.2 296.3 192.7 283.6 192.9 277.9C193 272.1 190.8 269.6 190 265.7C189.2 261.8 187.9 258.1 187.9 254.3C187.9 250.5 189 246.2 190 242.9C191 239.5 191.9 236.1 193.6 234.3C195.2 232.5 198.5 233 200 232.1C201.5 231.3 201.3 229.2 202.9 229.3Z" fill="#ffaa00"/>
<path d="M173.6 218.6C173.8 212.9 174 218.1 175 218.6C176 219 178.1 220.2 179.3 221.4C180.5 222.6 182.1 223.8 182.1 225.7C182.1 227.6 179.5 230.7 179.3 232.9C179 235 179.3 236.9 180.7 238.6C182.1 240.2 185.7 241.5 187.9 242.9C190 244.2 192.1 245 193.6 246.4C195 247.9 195.8 249.6 196.4 251.4C197 253.2 197.4 255.2 197.1 257.1C196.9 259 195.8 261.2 195 262.9C194.2 264.5 193.1 266 192.1 267.1C191.2 268.3 190.1 270.5 189.3 270C188.5 269.5 188.1 266.4 187.1 264.3C186.2 262.1 184.9 258.8 183.6 257.1C182.3 255.5 180.7 255 179.3 254.3C177.9 253.5 176 252.9 175 252.6C174 252.3 173.8 258.2 173.6 252.6C173.3 246.9 173.3 224.2 173.6 218.6Z" fill="#e60000"/>
<path d="M202.1 250C204.9 248.8 211.9 249.8 216.4 250C221 250.2 224.8 251.3 229.3 251.4C233.8 251.5 241 252.4 243.6 250.7C246.2 249 243.6 243.3 245 241.4C246.4 239.5 249.8 239.2 252.1 239.3C254.5 239.4 256.7 241.7 259.3 242.1C261.9 242.6 266 242.3 267.9 242.1C269.8 242 269.5 242.5 270.7 241.4C271.9 240.4 273.3 236.9 275 235.7C276.7 234.5 278.8 234 280.7 234.3C282.6 234.5 284.9 235.5 286.4 237.1C288 238.8 289.3 241.7 290 244.3C290.7 246.9 290.8 250 290.7 252.9C290.6 255.7 290.2 258.8 289.3 261.4C288.3 264 286.2 265.8 285 268.6C283.8 271.3 282.6 272.6 282.1 277.9C281.7 283.1 291.2 296.3 282.1 300C273.1 303.7 236.9 303.7 227.9 300C218.8 296.3 228.1 282.6 227.9 277.9C227.6 273.1 227.4 273.5 226.4 271.4C225.5 269.4 223.8 267.1 222.1 265.7C220.5 264.3 218.3 263.1 216.4 262.9C214.5 262.6 212.6 263.6 210.7 264.3C208.8 265 206.7 266.4 205 267.1C203.3 267.9 201.8 269 200.7 268.6C199.6 268.1 198.7 266.2 198.6 264.3C198.5 262.4 199.4 259.5 200 257.1C200.6 254.8 199.4 251.2 202.1 250Z" fill="#e60000"/>
<path d="M265 254.3C265.5 253.2 267.4 252.4 269.3 252.1C271.2 251.9 274 252.6 276.4 252.9C278.8 253.1 282.1 252.9 283.6 253.6C285 254.3 285.2 256.1 285 257.1C284.8 258.2 284 259.5 282.1 260C280.2 260.5 276.2 260.2 273.6 260C271 259.8 267.9 259.5 266.4 258.6C265 257.6 264.5 255.4 265 254.3Z" fill="#730000"/>
<path d="M189.3 134.3C189.4 136.1 190.4 141.8 190 145C189.6 148.2 188 151.1 187.1 153.6C186.3 156.1 186.3 159.3 185 160C183.7 160.7 181 158.8 179.3 157.9C177.6 156.9 176 155 175 154.3C174 153.6 173.8 153.7 173.6 153.6M176.4 168.6C177.9 168.3 181.7 166.9 185 167.1C188.3 167.4 193.1 170.2 196.4 170C199.8 169.8 202.3 166 205 165.7C207.7 165.5 210.5 167 212.9 168.6C215.2 170.1 216.8 172.9 219.3 175C221.8 177.1 224.5 179.4 227.9 181.4C231.2 183.5 235.2 185.5 239.3 187.1C243.3 188.8 250 190.7 252.1 191.4M180.7 211.4C182.6 210.8 189.3 208.8 192.1 207.9C195 206.9 195.7 206.3 197.9 205.7C200 205.1 203.8 204.5 205 204.3M263.6 134.3C263.8 135.8 263.8 140.8 265 143.6C266.2 146.3 269 148.3 270.7 150.7C272.4 153.1 272.9 154.9 275 157.9C277.1 160.8 282.1 166.8 283.6 168.6M252.1 191.4C252.6 191.7 253.3 192.5 255 193.3C256.7 194.1 259.8 195.1 262.1 196.4C264.5 197.8 266.7 200.6 269.3 201.4C271.9 202.3 275 202.3 277.9 201.4C280.7 200.6 283.6 198.1 286.4 196.4C289.3 194.8 292.1 192.1 295 191.4C297.9 190.7 301.7 191.2 303.6 192.1C305.5 193.1 305.4 196.2 306.4 197.1C307.5 198.1 309.4 197.7 310 197.9M327.9 134.3C329 135.1 332.9 137.5 335 139.3C337.1 141.1 339.8 144 340.7 145M203.6 228.6C205 228.9 209 229.8 212.1 230.7C215.2 231.7 218.8 233.5 222.1 234.3C225.5 235.1 228.8 235.4 232.1 235.7C235.5 236.1 238.8 235.8 242.1 236.4C245.5 237 249 238.5 252.1 239.3C255.2 240.1 258.1 240.8 260.7 241.4C263.3 242 265.5 243.1 267.9 242.9C270.2 242.6 273.8 240.5 275 240M205 252.9C205.7 253.3 207.9 255 209.3 255.7C210.7 256.4 212.5 256 213.6 257.1C214.6 258.3 215.5 260.5 215.7 262.9C216 265.2 214.9 268.9 215 271.4C215.1 273.9 216.2 276.8 216.4 277.9M216.4 251.4C216.1 252.4 214.6 256.2 214.3 257.1M173.6 216.4C173.8 216.3 173.6 216.8 175 215.7C176.4 214.6 179.5 211.2 182.1 210C184.8 208.8 188.3 209.3 190.7 208.6C193.1 207.9 194 206.4 196.4 205.7C198.8 205 203.6 204.5 205 204.3M184.3 234.3C185.4 234.5 188.5 235 190.7 235.7C193 236.4 196 237.4 197.9 238.6C199.8 239.8 201.5 240.2 202.1 242.9C202.7 245.5 202.4 251 201.4 254.3C200.5 257.6 198.2 260 196.4 262.9C194.6 265.7 192 268.9 190.7 271.4C189.4 273.9 188.9 276.8 188.6 277.9M229.3 272.1C230.5 272 233.8 271.3 236.4 271.4C239 271.5 242.1 273.3 245 272.9C247.9 272.4 251 269.6 253.6 268.6C256.2 267.5 258.1 266.5 260.7 266.4C263.3 266.3 266.9 267.7 269.3 267.9C271.7 268 274 267.3 275 267.1M200.7 262.9C201 263.8 201.2 266.9 202.1 268.6C203.1 270.2 204.8 271.7 206.4 272.9C208.1 274 211.2 275.2 212.1 275.7M253.6 237.9C253.8 237.9 253.6 237.3 255 237.9C256.4 238.5 259.8 240.6 262.1 241.4C264.5 242.3 267.4 243.6 269.3 242.9C271.2 242.1 271.8 238.6 273.6 237.1C275.4 235.7 277.9 234.2 280 234.3C282.1 234.4 284.2 236.4 286.4 237.9C288.7 239.3 291.9 241.1 293.6 242.9C295.2 244.6 295.7 246.4 296.4 248.6C297.1 250.7 297.1 253.8 297.9 255.7C298.6 257.6 299.3 258.6 300.7 260C302.1 261.4 304.5 262.9 306.4 264.3C308.3 265.7 310.2 267.1 312.1 268.6C314 270 316.2 271.3 317.9 272.9C319.5 274.4 321.4 277 322.1 277.9M253.6 266.4C253.8 266.4 253.6 266.2 255 266.4C256.4 266.7 260 267.7 262.1 267.9C264.3 268 266.9 267.3 267.9 267.1M325 223.6C325.7 223.3 327.6 222.5 329.3 222.1C331 221.8 333.1 221.2 335 221.4C336.9 221.7 338.8 222.5 340.7 223.6C342.6 224.6 344 226.8 346.4 227.9C348.8 228.9 353.1 229.5 355 230C356.9 230.5 357.4 230.6 357.9 230.7" fill="none" stroke="#1a88f5" stroke-width="1.0" stroke-linejoin="round" stroke-linecap="round"/>
<path d="M192.1 135L222.9 137.6L230 138.1M230 134.3L227.9 165.7L225.7 192.9M227.9 165.7L275 169.3L283.6 169M173.6 188.6L175 188.6L225.7 192.9L245.7 195.7M245.7 195.7L245 209.3M245 209.3L255.3 210M304.3 134.3L304.3 162.1L302.9 173.6M304.3 162.1L355 161L357.9 161M253.6 168.6L283.6 169.3L289.3 172.4L296.4 171.4L302.9 174.3M302.9 174.3L307.1 183.6L310 193.6L311.4 202.1L315 210.7L316.4 212.9M311.4 203.3L335 203.3L357.9 203.6M341.4 134.3L340.7 142.1L346.4 148.6L355 154.3L357.9 156.4M245.7 198.6L243.6 250.7M173.6 245.4L175 245.4L242.1 250.7L243.6 250.7L255 252.3M232.1 251.4L230 277.9M231.4 257.9L264.3 260M265 253.1L265 260L263.6 277.9M253.6 210L315 211.4M311.4 202.1L315 211.4L317.9 213.6L320.7 214.3L320 218.6L324.3 223.6L325 260M253.6 253.1L325 254M325 254L326.4 277.9M325 260L357.9 258.9M264.7 260L263.9 277.9M253.6 259.6L264.7 260" fill="none" stroke="#000" stroke-width="0.85" stroke-linejoin="round" stroke-linecap="round"/>
<path d="M225.3 134.3C224.9 135.1 223.4 137.5 222.9 139.3C222.3 141.1 221.8 143.3 222.1 145C222.5 146.7 224.2 147.9 225 149.3C225.8 150.7 227.4 152.4 227.1 153.6C226.9 154.8 224.5 155.2 223.6 156.4C222.6 157.6 221.9 159.3 221.4 160.7C221 162.1 221.5 163.9 220.7 165C219.9 166.1 217.7 166.7 216.4 167.1C215.1 167.6 213.5 167.1 212.9 167.9C212.3 168.6 212.3 170.4 212.9 171.4C213.5 172.5 214.9 173.7 216.4 174.3C218 174.9 220.4 175.2 222.1 175C223.9 174.8 225.7 173.5 227.1 172.9C228.6 172.3 229.6 171.3 230.7 171.4C231.8 171.5 232.9 172.6 233.6 173.6C234.3 174.5 234.4 176.4 235 177.1C235.6 177.9 236.9 178.2 237.1 177.9C237.4 177.5 236.9 176.1 236.4 175C236 173.9 234 172.5 234.3 171.4C234.5 170.4 236.7 169.5 237.9 168.6C239 167.6 240.5 166.9 241.4 165.7C242.4 164.5 242.5 162.5 243.6 161.4C244.6 160.4 246.2 159.9 247.9 159.3C249.5 158.7 252.5 159 253.6 157.9C254.6 156.7 254.4 154.5 254.3 152.1C254.2 149.8 253 146 252.9 143.6C252.7 141.2 252.9 139.4 253.6 137.9C254.2 136.3 256.2 134.9 256.7 134.3M173.6 188.9L175 187.9L188.6 177.9L193.6 187.9L196.4 195L198.6 203.6L201.4 212.1L201.4 208.6L197.1 216.4L200 225L202.9 229.3L200 232.1L193.6 234.3L190 242.9L187.9 254.3L190 265.7L192.9 277.9M290.7 134.3L288.6 143.6L303.6 141.4L315 140.7L323.6 134.3M359.3 185C358.6 184.9 356.9 184.9 355 184.3C353.1 183.7 350.7 181.3 347.9 181.4C345 181.5 341 184.8 337.9 185C334.8 185.2 331.7 182.9 329.3 182.9C326.9 182.9 323.8 184.2 323.6 185C323.3 185.8 327.5 186.2 327.9 187.9C328.2 189.5 325.7 193.1 325.7 195C325.7 196.9 326.7 198.2 327.9 199.3C329 200.4 331.7 200.6 332.9 201.4C334 202.3 333.2 203.9 335 204.3C336.8 204.6 340.2 203.9 343.6 203.6C346.9 203.2 352.4 202.5 355 202.1C357.6 201.8 358.6 201.5 359.3 201.4" fill="none" stroke="#000" stroke-width="1.9" stroke-linejoin="round" stroke-linecap="round"/>
</g>
<g clip-path="url(#c6)">
<path d="M347.5 182.5L357.5 186.2L368.8 187.5L361.2 195L357.5 201.2L350 203.8L347.5 203.8Z" fill="#ffff00"/>
<path d="M347.5 208.8C349.4 199.6 355.6 207.9 358.8 208.8C361.9 209.6 363.5 213.3 366.2 213.8C369 214.2 373.3 210.4 375 211.2C376.7 212.1 376.5 216.5 376.2 218.8C376 221 373.8 223.5 373.8 225C373.7 226.5 375.3 227.2 375.8 228C376.2 228.8 377.1 228.9 376.5 229.5C375.9 230.1 373 230.8 372 231.5C371 232.2 371.3 232 370.8 233.5C370.2 235 369.2 238.4 368.5 240.8C367.8 243.1 367.3 245.1 366.5 247.8C365.7 250.4 364.1 254.6 363.5 256.5C362.9 258.4 363.6 258.3 362.8 259.2C361.9 260.2 361.1 261.3 358.5 262C355.9 262.7 349.1 272.4 347.2 263.5C345.4 254.6 345.6 217.9 347.5 208.8Z" fill="#ffff00"/>
<path d="M517.5 193.8C516 193.2 512.6 195.8 510.5 197.5C508.4 199.2 506.8 201.6 505 204C503.2 206.4 501.5 209.1 499.5 211.8C497.5 214.4 494.8 217.7 493.2 219.8C491.7 221.8 491.2 222.9 490 224.2C488.8 225.6 487.5 225.8 486.2 228C485 230.2 482.9 234.9 482.5 237.5C482.1 240.1 482.5 242 483.8 243.8C485 245.5 487.7 247.3 490 248C492.3 248.7 495.1 248.4 497.8 248C500.4 247.6 503.4 246.8 505.8 245.8C508.1 244.7 510.5 243.5 512 241.8C513.5 240 514.2 237.3 514.5 235.5C514.8 233.7 513.4 232.3 513.5 230.8C513.6 229.2 514.3 227.5 515.2 226C516.2 224.5 518.5 223.3 519.2 222C520 220.7 520.7 219.6 520 218C519.3 216.4 515.9 214.6 515.2 212.5C514.6 210.4 515.3 207.5 516 205.5C516.7 203.5 519 202.7 519.2 200.8C519.5 198.8 519 194.3 517.5 193.8Z" fill="#ffff00"/>
<path d="M475 256.5C475.1 255.2 475.4 252.9 476.5 251.5C477.6 250.1 479.8 248.8 481.5 248.2C483.2 247.8 485.3 248.3 487 248.5C488.7 248.7 489.3 249.4 491.5 249.2C493.7 249.1 497.2 248.5 500 247.8C502.8 247 506.2 245.8 508.5 245C510.8 244.2 512.5 242.5 513.5 242.8C514.5 243 514.8 244.9 514.2 246.5C513.7 248.1 510.6 249.9 510 252.2C509.4 254.6 510.5 258 510.8 260.8C511 263.5 512.3 266.8 511.5 268.5C510.7 270.2 507.7 270.9 505.8 271C503.8 271.1 501.2 270.5 500 269.2C498.8 268 498.9 265.4 498.5 263.5C498.1 261.6 498.5 259.4 497.8 257.8C497 256.1 495.5 254.3 494.2 253.5C493 252.7 491.1 252.2 490 252.8C488.9 253.2 488 255 487.8 256.5C487.5 258 489.1 260.3 488.5 261.5C487.9 262.7 485.9 263.4 484.2 263.5C482.6 263.6 479.9 262.7 478.5 262C477.1 261.3 476.3 260.2 475.8 259.2C475.2 258.3 474.9 257.8 475 256.5Z" fill="#ffff00"/>
<path d="M347.5 194.5C348.3 193.4 351 193.7 352.5 194C354 194.3 355.8 195.3 356.2 196.2C356.8 197.2 356.5 198.8 355.5 199.5C354.5 200.2 351.3 200.3 350 200.5C348.7 200.7 347.9 201.5 347.5 200.5C347.1 199.5 346.7 195.6 347.5 194.5Z" fill="#fcd37f"/>
<path d="M505.8 206.2C506.7 205.2 510.7 204.3 512 204.8C513.3 205.2 513.9 207.6 513.8 208.8C513.6 209.9 512.5 211.4 511.2 211.8C510 212.1 507.4 211.9 506.5 211C505.6 210.1 504.8 207.3 505.8 206.2Z" fill="#fcd37f"/>
<path d="M491.2 241.2C492.2 239.5 495.6 236 498 234.5C500.4 233 503.7 232.4 505.8 232.2C507.8 232.1 509.6 232.7 510.5 233.8C511.4 234.8 511.8 237 511.2 238.5C510.7 240 509.5 241.4 507.2 242.5C505 243.6 500 244.6 497.5 245C495 245.4 493 245.6 492 245C491 244.4 490.2 243 491.2 241.2Z" fill="#fcd37f"/>
<path d="M411.2 121.2C413.5 121.5 416.8 123.3 417.5 125C418.2 126.7 416.3 129.6 415.5 131.2C414.7 132.9 413.2 133.5 412.5 135C411.8 136.5 412.3 137.9 411.2 140C410.2 142.1 407.3 145 406.2 147.5C405.2 150 404.7 152.5 405 155C405.3 157.5 407.2 160 408 162.5C408.8 165 409.6 167.3 409.5 170C409.4 172.7 408.9 176.5 407.5 178.8C406.1 181 402.9 183.3 401.2 183.8C399.6 184.2 398.8 182.9 397.5 181.2C396.2 179.6 394.8 176.7 393.8 173.8C392.7 170.8 391.5 166.9 391.2 163.8C391 160.6 391.5 158.1 392 155C392.5 151.9 394.3 147.5 394.5 145C394.7 142.5 393.8 140.2 393 140C392.2 139.8 390.7 143.5 390 143.8C389.3 144 388.1 142.9 388.8 141.2C389.4 139.6 392.3 136 393.8 133.8C395.2 131.5 395.8 129.2 397.5 127.5C399.2 125.8 401.5 124.8 403.8 123.8C406 122.7 409 121 411.2 121.2Z" fill="#97d6f5"/>
<path d="M418.8 122.5C419.8 122.1 422.3 121.2 425 121.2C427.7 121.2 431.7 122.7 435 122.5C438.3 122.3 440.8 120.4 445 120C449.2 119.6 456.9 119.4 460 120C463.1 120.6 462.5 122.1 463.8 123.8C465 125.4 467.5 128.5 467.5 130C467.5 131.5 465.2 132.5 463.8 132.5C462.3 132.5 460.4 130.8 458.8 130C457.1 129.2 455.2 127.5 453.8 127.5C452.3 127.5 450.2 128.3 450 130C449.8 131.7 452 134.6 452.5 137.5C453 140.4 453.2 144.2 453 147.5C452.8 150.8 452.2 155.8 451.2 157.5C450.3 159.2 448.5 158.8 447.5 157.5C446.5 156.2 446 151.9 445 150C444 148.1 442.7 146.5 441.2 146.2C439.8 146 437.5 147.7 436.2 148.8C435 149.8 434.7 152.3 433.8 152.5C432.8 152.7 430.8 151.5 430.5 150C430.2 148.5 431.5 145.8 432 143.8C432.5 141.7 434.1 139.6 433.8 137.5C433.4 135.4 431.7 133.1 430 131.2C428.3 129.4 425.6 127.5 423.8 126.2C421.9 125 419.6 124.4 418.8 123.8C417.9 123.1 417.7 122.9 418.8 122.5Z" fill="#97d6f5"/>
<path d="M442.5 165C443.2 164.6 445.8 165.4 446.2 166.2C446.7 167.1 445.7 169.6 445 170C444.3 170.4 442.4 169.6 442 168.8C441.6 167.9 441.8 165.4 442.5 165Z" fill="#97d6f5"/>
<path d="M438.8 178C439.2 176.8 441.9 174.9 443.8 173.8C445.6 172.6 448.1 172.5 450 171.2C451.9 170 452.9 167.7 455 166.2C457.1 164.8 459.6 164 462.5 162.5C465.4 161 469.6 158.7 472.5 157.5C475.4 156.3 478.4 155.5 480 155.5C481.6 155.5 482.4 156.3 482 157.5C481.6 158.7 479.5 160.8 477.5 162.5C475.5 164.2 472.5 166 470 167.5C467.5 169 465 169.4 462.5 171.2C460 173.1 457.5 177 455 178.8C452.5 180.5 449.8 181.6 447.5 182C445.2 182.4 442.7 181.9 441.2 181.2C439.8 180.6 438.3 179.2 438.8 178Z" fill="#97d6f5"/>
<path d="M472.5 151.2C471.9 150.4 472.5 147.9 473.8 146.2C475 144.6 477.3 142.7 480 141.2C482.7 139.8 486.7 138.8 490 137.5C493.3 136.2 497.1 134.2 500 133.8C502.9 133.3 506.3 134 507.5 135C508.7 136 508.2 138.3 507 140C505.8 141.7 502.4 144 500 145C497.6 146 495.4 145.8 492.5 146.2C489.6 146.7 485 146.7 482.5 147.5C480 148.3 479.2 150.6 477.5 151.2C475.8 151.9 473.1 152.1 472.5 151.2Z" fill="#97d6f5"/>
<path d="M488.1 138C489.4 136 493.1 135.3 495.6 134.3C498 133.2 501 132.3 503 131.5C505 130.7 506.7 129.2 507.6 129.6C508.5 130.1 508.7 132.6 508.5 134.3C508.4 136 507.9 138.3 506.7 139.8C505.4 141.4 503.3 142.4 501.1 143.5C499 144.6 495.9 145.9 493.7 146.3C491.5 146.7 489.1 147.3 488.1 145.9C487.2 144.5 486.9 139.9 488.1 138Z" fill="#97d6f5"/>
<path d="M433.8 122.5C434.5 121.9 437.8 120.8 440 120.8C442.2 120.7 446 121.4 447 122C448 122.6 447.2 123.9 446 124.5C444.8 125.1 441.8 125.5 440 125.5C438.2 125.5 436.5 125 435.5 124.5C434.5 124 433 123.1 433.8 122.5Z" fill="#ffffff"/>
<path d="M371.2 133.8C371 135.6 369.4 141 370 145C370.6 149 375.2 154.6 375 157.5C374.8 160.4 371.2 161 368.8 162.5C366.2 164 361.5 165.6 360 166.2M388.8 188.8C387.3 189.2 382.3 189.4 380 191.2C377.7 193.1 376.5 197.3 375 200C373.5 202.7 372.7 205.4 371.2 207.5C369.8 209.6 367.7 210.8 366.2 212.5C364.8 214.2 363.1 216.7 362.5 217.5M348.8 230C350.6 229.8 356.9 229.4 360 228.8C363.1 228.1 365.6 226 367.5 226.2C369.4 226.5 370.6 229.4 371.2 230M393.8 247.5C394.2 248.8 395.8 251 396.2 255C396.7 259 396.2 268.5 396.2 271.2M432.5 271.2C433.8 269.6 437.5 263.5 440 261.2C442.5 259 444.2 259 447.5 257.5C450.8 256 456.9 254 460 252.5C463.1 251 465.2 249.4 466.2 248.8M472.5 188.8C473.3 187.7 476.5 184.6 477.5 182.5C478.5 180.4 477.5 177.9 478.8 176.2C480 174.6 482.9 173.5 485 172.5C487.1 171.5 490.2 170.4 491.2 170M486.2 215C486.9 214 488.5 210 490 208.8C491.5 207.5 493.3 207.9 495 207.5C496.7 207.1 499.2 206.5 500 206.2M470 255C471 254.3 473.8 251.6 475.8 250.8C477.7 249.9 480.1 249 481.5 250C482.9 251 483.1 254.2 484.2 256.5C485.4 258.8 487.1 261.1 488.5 263.5C489.9 265.9 492 269.5 492.8 270.8M519.6 145.4C521.9 145.5 531 144.2 533.5 145.9C536 147.6 534 152.1 534.4 155.6C534.9 159 535.6 163.9 536.3 166.7C537 169.4 538.1 171.3 538.5 172.2M530.4 114.8L531.1 119.4L531.7 124.1M545.6 144.4C545.7 145.7 545.9 149.4 546.5 151.9C547.1 154.3 548.3 157.4 549.3 159.3C550.2 161.1 551.6 162.3 552 163M509.4 161.1C510.2 162 512.8 165 514.1 166.7C515.3 168.4 517.5 169.4 516.9 171.3C516.2 173.1 511.9 175.5 510.4 177.8C508.8 180.1 507 182.7 507.6 185.2C508.2 187.7 512.4 190.7 514.1 192.6C515.8 194.4 517.2 195.7 517.8 196.3M520.6 146.3C520.7 147.5 521.9 151.5 521.5 153.7C521 155.9 519.6 158 517.8 159.3C515.9 160.5 511.6 160.8 510.4 161.1M500.2 153.7L503 157.8M502 152.8L505.7 155.9M574.3 99.1L575.2 107.4" fill="none" stroke="#1a88f5" stroke-width="1.0" stroke-linejoin="round" stroke-linecap="round"/>
<path d="M348.8 150.5C350 151.2 354.6 152.6 356.2 155C357.9 157.4 357.1 161.7 358.8 165C360.4 168.3 364.6 172.1 366.2 175C367.9 177.9 369 180.2 368.8 182.5C368.5 184.8 366.2 186.9 365 188.8C363.8 190.6 362.5 191.9 361.2 193.8C360 195.6 357.9 197.7 357.5 200C357.1 202.3 357.9 205 358.8 207.5C359.6 210 361 212.5 362.5 215C364 217.5 366.6 220.8 368 222.5C369.4 224.2 370.4 223.7 370.8 225.5C371.1 227.3 369.2 231.3 370 233.5C370.8 235.7 374 237 375.8 238.5C377.5 240 379.8 240.7 380.8 242.2C381.7 243.8 380.9 246.2 381.5 247.8C382.1 249.3 383.8 250.2 384.2 251.5C384.7 252.8 384.7 254.8 384.2 255.8C383.8 256.7 382.1 256.4 381.5 257.2C380.9 258.1 381.2 259 380.8 260.8C380.2 262.5 379.2 265.6 378.5 267.8C377.8 269.9 376.8 272.5 376.5 273.5M366.2 175L392.5 173.8M397.5 183L400 228.8L397 233L396.5 237.8L395 240.8L394.2 245L392.8 247.8L390 247.2L385.8 247.8L384.2 251.5M403.8 182.5L425 180.8L441.2 178.8M425 180.8L429.5 216.2M396.5 237.8L403.8 236.2L410 235L416.2 231.2L422.5 223.8L429.5 216.2L435 218.8L442.5 221.2L450 218.8L455 223.8L453.8 227.5L460 233.8L465 237.5L475 235L481.2 231.2M455 223.8L460 215L463.8 210L470 202.5L471.8 192.5L468.8 172.5M472 202L510 195L522.5 192M465 237.5L462.5 240L455 245L448.8 250L445 250.8M338.8 260L373.5 258.5M381.5 257.8L397 255.2L400 254.8L420 253L445.8 250L482.8 245.5L520 239.5L526.2 238.5M481.2 231.2L486.2 221.2L490 215L497.5 206.2L502.5 207.5L505.5 201.2M485 200.5L486.2 207.5L490 205L497.5 200.5L502.5 202.5L505.5 201.2L510 198.8L515 200.5M373.5 258.5L375 260.8L372.8 265L379.2 265.5M438.8 274L452.8 271.5L461.5 267.5L480 266.8L482.8 269.2L492 268.5L500 273M440 267L445.8 262L454.2 256.5L458.5 257.2L465.8 250.8L467.8 247.8M512 241.1L529.4 237.8M348.8 161.2L356.5 161M523.3 115.7L549.3 110.2L552 105.6L555.2 99.1M530.4 114.8L531.7 124.1L534.4 134.3L537.2 142.6L538.5 153.7L540 164.8L538.5 171.3M549.3 110.2L546.5 118.5L544.6 127.8L545.2 137L545.6 144.4M552 105.6L556.7 120.4L561.3 134.3L562.2 138.9M538.5 144.4L545.6 144.1L560.4 140.7L563.1 141.7M539.1 154.6L559.4 150.9M556.7 151.5L557.6 159.3M526.1 168.5L537.2 174.1M526.1 168.5L525.2 175.9L529.8 181.5L531.7 187L527 192.6L525.2 196.3L528 200.9M489.1 165.9L508.5 162L522.4 159.6L526.1 168.5" fill="none" stroke="#000" stroke-width="0.85" stroke-linejoin="round" stroke-linecap="round"/>
<path d="M519.1 194.4L517.6 200.7L520.7 205.5L518.3 210.2L521.5 214.9L523.9 218.9L522.3 222.8L525.4 225.9L523.9 229.9L527 232.2L528.6 235.4M519.9 202.3L513.6 205.5L510.5 208.6M521.5 211.8L515.2 213.3L511.3 214.9M523.9 218.9L518.3 220.4L513.6 218.9M525.4 225.9L520.7 225.2L516.8 222.8M529.4 237C530.2 238 532.7 241.2 534.1 243.3C535.5 245.4 537.6 247.5 538 249.6C538.4 251.7 537.6 254 536.5 255.9C535.3 257.7 532.9 259 530.9 260.6C529 262.2 526.7 263.6 524.6 265.3C522.5 267 519.8 269.3 518.3 270.8C516.9 272.4 516.4 274.1 516 274.8M527 232.2L529.4 237L526.2 240.1L529.4 243.3L525.4 245.6L528.6 248.8L523.9 251.1L527.8 254.3L522.3 256.7L526.2 259L521.5 262.2L523.9 264.5L519.9 266.9M507.6 133.3C507.7 132.1 507.4 128.2 508.5 125.9C509.6 123.6 511.6 121.1 514.1 119.4C516.5 117.7 521.8 116.4 523.3 115.7M591.5 99.1L586.3 107.4L580.7 113L575.2 117.6L569.6 123.1L565 127.8L563.1 134.3L564.1 140.7L563.1 144.4L565.9 148.1L571.5 147.2L574.3 149.1L576.1 153.7L573.3 156.5L574.3 151.9L570.6 152.8L567.8 155.6L564.1 156.5L560.4 159.3L557.6 162L551.1 166.7L543.7 171.3L538.5 174.1L537.2 177.8L540 185.2L539.1 192.6L535.4 200.9M538.5 175L545.6 171.3L553.9 166.7L555.7 167.6L549.3 172.2L542.8 175.9L537.2 177.8" fill="none" stroke="#000" stroke-width="1.15" stroke-linejoin="round" stroke-linecap="round"/>
<path d="M348.8 182.5L357.5 186.2L368.8 187.5L361.2 195L357.5 201.2L350 203.8L348.8 204M517.5 193.8C516.3 194.4 512.6 195.8 510.5 197.5C508.4 199.2 506.8 201.6 505 204C503.2 206.4 501.5 209.1 499.5 211.8C497.5 214.4 494.8 217.7 493.2 219.8C491.7 221.8 491.2 222.9 490 224.2C488.8 225.6 487.5 225.8 486.2 228C485 230.2 482.9 234.9 482.5 237.5C482.1 240.1 482.5 242 483.8 243.8C485 245.5 487.7 247.3 490 248C492.3 248.7 495.1 248.4 497.8 248C500.4 247.6 503.4 246.8 505.8 245.8C508.1 244.7 510.5 243.5 512 241.8C513.5 240 514.2 237.3 514.5 235.5C514.8 233.7 513.4 232.3 513.5 230.8C513.6 229.2 514.3 227.5 515.2 226C516.2 224.5 518.5 223.3 519.2 222C520 220.7 520.7 219.6 520 218C519.3 216.4 515.9 214.6 515.2 212.5C514.6 210.4 515.3 207.5 516 205.5C516.7 203.5 519 202.7 519.2 200.8C519.5 198.8 517.8 194.9 517.5 193.8" fill="none" stroke="#000" stroke-width="1.9" stroke-linejoin="round" stroke-linecap="round"/>
<path d="M591.5 99.1L586.3 107.4L580.7 113L575.2 117.6L569.6 123.1L570.7 124.1L576.3 118.9L582 114.4L587.6 108.7L593 100Z" fill="#000000"/>
</g>
<g clip-path="url(#c7)">
<path d="M523.9 210.2L529.4 207.8L530.9 211.8L527 214.1Z" fill="#ffff00"/>
<path d="M527.8 218.9L529.7 218.1L529.4 224.4L528.1 225.2Z" fill="#ffff00"/>
<path d="M523.1 234.6L528.6 233L529.1 236.2L523.9 237.8Z" fill="#ffff00"/>
<path d="M488.1 138C489.4 136 493.1 135.3 495.6 134.3C498 133.2 501 132.3 503 131.5C505 130.7 506.7 129.2 507.6 129.6C508.5 130.1 508.7 132.6 508.5 134.3C508.4 136 507.9 138.3 506.7 139.8C505.4 141.4 503.3 142.4 501.1 143.5C499 144.6 495.9 145.9 493.7 146.3C491.5 146.7 489.1 147.3 488.1 145.9C487.2 144.5 486.9 139.9 488.1 138Z" fill="#97d6f5"/>
<path d="M519.6 145.4C521.9 145.5 531 144.2 533.5 145.9C536 147.6 534 152.1 534.4 155.6C534.9 159 535.6 163.9 536.3 166.7C537 169.4 538.1 171.3 538.5 172.2M530.4 114.8L531.1 119.4L531.7 124.1M545.6 144.4C545.7 145.7 545.9 149.4 546.5 151.9C547.1 154.3 548.3 157.4 549.3 159.3C550.2 161.1 551.6 162.3 552 163M509.4 161.1C510.2 162 512.8 165 514.1 166.7C515.3 168.4 517.5 169.4 516.9 171.3C516.2 173.1 511.9 175.5 510.4 177.8C508.8 180.1 507 182.7 507.6 185.2C508.2 187.7 512.4 190.7 514.1 192.6C515.8 194.4 517.2 195.7 517.8 196.3M520.6 146.3C520.7 147.5 521.9 151.5 521.5 153.7C521 155.9 519.6 158 517.8 159.3C515.9 160.5 511.6 160.8 510.4 161.1M500.2 153.7L503 157.8M502 152.8L505.7 155.9M574.3 99.1L575.2 107.4" fill="none" stroke="#1a88f5" stroke-width="1.0" stroke-linejoin="round" stroke-linecap="round"/>
<path d="M512 241.1L529.4 237.8M523.9 191.3L525.9 199.2L527.8 207L532.2 206.3L535.7 205.5M523.3 115.7L549.3 110.2L552 105.6L555.2 99.1M530.4 114.8L531.7 124.1L534.4 134.3L537.2 142.6L538.5 153.7L540 164.8L538.5 171.3M549.3 110.2L546.5 118.5L544.6 127.8L545.2 137L545.6 144.4M552 105.6L556.7 120.4L561.3 134.3L562.2 138.9M538.5 144.4L545.6 144.1L560.4 140.7L563.1 141.7M539.1 154.6L559.4 150.9M556.7 151.5L557.6 159.3M526.1 168.5L537.2 174.1M526.1 168.5L525.2 175.9L529.8 181.5L531.7 187L527 192.6L525.2 196.3L528 200.9M489.1 165.9L508.5 162L522.4 159.6L526.1 168.5" fill="none" stroke="#000" stroke-width="0.85" stroke-linejoin="round" stroke-linecap="round"/>
<path d="M523.9 191.3L537.2 185L539.6 188.1L538 197.6L535.7 205.5L533.3 213.3L530.9 221.2L528.6 229.1L527 224.4L527.8 216.5L525.4 208.6L523.9 200.7L521.5 194.4L523.9 191.3M529.4 237C530.2 238 532.7 241.2 534.1 243.3C535.5 245.4 537.6 247.5 538 249.6C538.4 251.7 537.6 254 536.5 255.9C535.3 257.7 532.9 259 530.9 260.6C529 262.2 526.7 263.6 524.6 265.3C522.5 267 519.4 269.9 518.3 270.8M527 232.2L529.4 237L526.2 240.1L529.4 243.3L525.4 245.6L528.6 248.8L523.9 251.1L527.8 254.3L522.3 256.7L526.2 259L521.5 262.2L523.9 264.5L519.9 266.9M528.6 248.8L533.3 248L534.9 251.9L530.9 254.3L532.5 256.7L528.6 258.2M507.6 133.3C507.7 132.1 507.4 128.2 508.5 125.9C509.6 123.6 511.6 121.1 514.1 119.4C516.5 117.7 521.8 116.4 523.3 115.7M591.5 99.1L586.3 107.4L580.7 113L575.2 117.6L569.6 123.1L565 127.8L563.1 134.3L564.1 140.7L563.1 144.4L565.9 148.1L571.5 147.2L574.3 149.1L576.1 153.7L573.3 156.5L574.3 151.9L570.6 152.8L567.8 155.6L564.1 156.5L560.4 159.3L557.6 162L551.1 166.7L543.7 171.3L538.5 174.1L537.2 177.8L540 185.2L539.1 192.6L535.4 200.9M538.5 175L545.6 171.3L553.9 166.7L555.7 167.6L549.3 172.2L542.8 175.9L537.2 177.8" fill="none" stroke="#000" stroke-width="1.15" stroke-linejoin="round" stroke-linecap="round"/>
<path d="M591.5 99.1L586.3 107.4L580.7 113L575.2 117.6L569.6 123.1L570.7 124.1L576.3 118.9L582 114.4L587.6 108.7L593 100Z" fill="#000000"/>
</g>
<g clip-path="url(#c8)">
<path d="M53.8 267.5L56.2 270L61.2 277.5L63.8 286.2L66.2 290L92.5 292.5L91.2 293.8L132.5 317.5L156.2 322L165 323L165.5 317.8L176.2 318.5L180 318.5L180 267.5Z" fill="#ffaa00"/>
<path d="M55 267.9L60.7 269.3L62.1 266.4L70 264.3L77.9 263.6L79.3 259.3L77.1 255L77.1 252.1L100.7 252.1L100 255L99.3 262.1L101.4 269.3L102.1 272.1L98.6 276.4L94.3 279.3L87.1 285L82.1 290L64.3 288.6L63.6 280L60.7 273.6L55.7 268.6Z" fill="#fcd37f"/>
<path d="M149.3 319.3C148.2 317.5 149.2 313.5 149.4 311.4C149.7 309.4 150 308 150.7 306.9C151.4 305.7 152.1 304.8 153.6 304.3C155 303.7 158.6 300.6 159.3 303.6C160 306.6 158.5 319.2 157.9 322.3C157.3 325.4 157.1 322.6 155.7 322.1C154.3 321.6 150.3 321.1 149.3 319.3Z" fill="#fcd37f"/>
<path d="M157.4 304.3L165.7 304.3L174.3 303.6L178.6 304.3L187.1 307.1L187.1 320.7L165.4 318.1L165.1 323.1L155.7 322.3Z" fill="#fcd37f"/>
<path d="M148.6 237.1C151.2 234.8 154 231.4 157.1 228.6C160.2 225.7 164.3 221.8 167.1 220C170 218.2 171.7 217.6 174.3 217.9C176.9 218.1 182 219.6 182.9 221.4C183.7 223.2 179.8 226 179.3 228.6C178.8 231.2 178.7 234.8 180 237.1C181.3 239.5 184.8 241.4 187.1 242.9C189.5 244.3 192.1 244.8 194.3 245.7C196.4 246.7 197.6 247.9 200 248.6C202.4 249.3 207.1 247.1 208.6 250C210 252.9 211.5 262.5 208.6 265.7C205.6 268.9 194.2 269.7 190.7 269.1C187.2 268.6 188.6 264.7 187.4 262.6C186.2 260.4 185.1 257.8 183.6 256.1C182.1 254.5 180.4 253.2 178.4 252.9C176.5 252.5 174.2 252.7 171.9 254.1C169.5 255.5 166.2 258.6 164.1 261.3C162.1 264 160.5 267.2 159.6 270.4C158.7 273.7 158.5 277.9 158.9 280.7C159.2 283.5 161.6 285.7 161.6 287.3C161.6 288.9 160.9 290 158.9 290.4C156.8 290.9 150.6 291.3 149.1 289.9C147.6 288.5 150.1 284.4 149.9 282C149.6 279.6 149.3 277.9 147.9 275.6C146.5 273.2 142.9 270.9 141.4 267.9C140 264.8 139.5 261.3 139.1 257.4C138.8 253.5 139 246.9 139.4 244.4C139.8 242 139.9 244.1 141.4 242.9C143 241.6 146 239.5 148.6 237.1Z" fill="#e60000"/>
<path d="M121.2 308.8C121.7 307.6 125 306.8 127.5 307C130 307.2 134 308.7 136.2 310C138.5 311.3 140.6 313.5 141.2 315C141.9 316.5 141.5 318.3 140 318.8C138.5 319.2 135 318.3 132.5 317.5C130 316.7 126.9 315.2 125 313.8C123.1 312.3 120.8 309.9 121.2 308.8Z" fill="#e60000"/>
<path d="M79.3 277.9L80.7 278.6L83.6 282.9L82.1 284.3L80 281.4Z" fill="#97d6f5" stroke="#45a0f0" stroke-width="0.5"/>
<path d="M96.2 292.5C97.7 292.4 101.9 292.8 105 292C108.1 291.2 111.7 288.5 115 288C118.3 287.5 122.1 288.9 125 288.8C127.9 288.6 130 287.5 132.5 287C135 286.5 137.5 285.3 140 285.5C142.5 285.7 144.8 287.5 147.5 288C150.2 288.5 154.8 288.6 156.2 288.8M120 288C122.1 289 128.8 292.6 132.5 293.8C136.2 294.9 139.2 294.4 142.5 295C145.8 295.6 149.6 296 152.5 297.5C155.4 299 157.5 303.3 160 303.8C162.5 304.2 165.8 301.9 167.5 300C169.2 298.1 169.6 293.8 170 292.5" fill="none" stroke="#1a88f5" stroke-width="1.0" stroke-linejoin="round" stroke-linecap="round"/>
<path d="M163 265L156.2 322" fill="none" stroke="#000" stroke-width="0.85" stroke-linejoin="round" stroke-linecap="round"/>
<path d="M53.8 267.5C54.2 267.9 55 268.3 56.2 270C57.5 271.7 60 274.8 61.2 277.5C62.5 280.2 62.9 284.2 63.8 286.2C64.6 288.3 65.8 289.4 66.2 290M66.2 290L92.5 292.5L91.2 293.8L132.5 317.5L156.2 322L165 323L165.5 317.8L176.2 318.5M101.2 268.8C101.5 269.6 103.3 271.9 102.5 273.8C101.7 275.6 97.5 277.7 96.2 280C95 282.3 95 285.5 95 287.5C95 289.5 96.9 291 96.2 292C95.6 293 92.1 293.5 91.2 293.8" fill="none" stroke="#000" stroke-width="1.15" stroke-linejoin="round" stroke-linecap="round"/>
<path d="M202.9 290C202.6 291.2 202.6 295.1 201.4 297.1C200.2 299.2 197.6 300.8 195.7 302.1C193.8 303.5 191.9 304.8 190 305C188.1 305.2 186.2 303.6 184.3 303.6C182.4 303.6 180.2 304.2 178.6 305C176.9 305.8 176 307.6 174.3 308.6C172.6 309.5 170.5 310.2 168.6 310.7C166.7 311.2 164.5 310.8 162.9 311.4C161.2 312 159.6 313.2 158.6 314.3C157.5 315.4 156.9 316.5 156.4 317.9C156 319.2 156.1 321.4 156 322.1" fill="none" stroke="#000" stroke-width="1.9" stroke-linejoin="round" stroke-linecap="round"/>
<path d="M38 272L40 271.5L40.5 273.5L38.5 273.5Z" fill="#000"/>
<path d="M45.5 269.5L47.5 269.5L47.5 271.5L46 271.5Z" fill="#000"/>
<path d="M50 272L52.5 272.5L53 275.5L51 275Z" fill="#000"/>
<path d="M48 277.5L50 278L51 281.5L49 281Z" fill="#000"/>
</g>
<g clip-path="url(#c9)">
<path d="M289.3 268.6L302.1 268.6L299.3 275.7L302.1 281.4L309.3 287.1L303.6 291.4L295 292.9L287.9 297.1L282.1 302.9L275 311.4L269.3 317.1L272.1 320L276.4 322.1L280.7 323.6L285.7 320L290.7 321.4L297.9 320L305 318.6L304.3 324.3L313.6 323.6L310.7 331.4L309.3 337.1L303.6 342.9L307.9 347.1L310 355L315 363.6L317.9 365.7L315 367.1L306.4 370.7L297.9 376.4L292.9 383.6L290.7 392.1L292.9 400.7L294.3 406.4L291.4 408.6L285 405.7L276.4 402.1L270 399.3L265.7 392.1L265 386.4L262.1 380.7L257.9 375.7L254.3 369.3L251.4 362.1L245.7 356.4L242.9 352.1L233.6 350.7L227.9 352.9L225 359.3L221.4 361.4L216.2 356.2L210 350L203.8 342.5L200 332.5L192.5 326.2L186.2 318.8L185.4 318.6L185.4 316.4L185 319.7L173.6 318.6L173.6 268.6Z" fill="#ffff00"/>
<path d="M276.4 317.9C276.7 317.5 277.9 317.1 278.6 317.1C279.2 317.2 280.3 317.9 280.4 318.3C280.5 318.7 279.8 319.5 279.3 319.7C278.7 319.9 277.6 319.7 277.1 319.4C276.7 319.1 276.2 318.2 276.4 317.9Z" fill="#ffff00"/>
<path d="M187.6 319.3C188 318.3 190.2 318.3 192.1 318.3C194.1 318.3 197.7 318.3 199.3 319.3C200.8 320.3 201.2 322 201.4 324.3C201.6 326.5 201.3 331.7 200.4 332.9C199.6 334 198.3 332.9 196.4 331.4C194.6 330 190.8 326.3 189.3 324.3C187.8 322.3 187.1 320.3 187.6 319.3Z" fill="#ffffff"/>
<path d="M299.3 349.3C299.8 348.1 301 346.7 302.1 346.4C303.3 346.2 305.5 346.9 306.4 347.9C307.4 348.8 307.9 350.7 307.9 352.1C307.9 353.6 306.2 355 306.4 356.4C306.7 357.9 309 359.3 309.3 360.7C309.5 362.1 308.6 364.5 307.9 365C307.1 365.5 306 364.8 305 363.6C304 362.4 303.1 359.5 302.1 357.9C301.2 356.2 299.8 355 299.3 353.6C298.8 352.1 298.8 350.5 299.3 349.3Z" fill="#ffffff"/>
<path d="M259.3 375.7C259.4 374.4 261.7 373.7 263.6 372.9C265.5 372 268.9 370.6 270.7 370.7C272.5 370.8 273.8 372.1 274.3 373.6C274.8 375 274.3 377.6 273.6 379.3C272.9 381 271.3 382.6 270 383.6C268.7 384.5 266.9 385.5 265.7 385C264.5 384.5 263.9 382.3 262.9 380.7C261.8 379.2 259.2 377 259.3 375.7Z" fill="#ffffff"/>
<path d="M270 396.4C270.4 395.5 272.3 394.2 273.6 394.3C274.9 394.4 277.4 396.1 277.9 397.1C278.3 398.2 277.5 400.2 276.4 400.7C275.4 401.2 272.5 400.7 271.4 400C270.4 399.3 269.6 397.4 270 396.4Z" fill="#ffffff"/>
<path d="M288.6 396.4C288.8 393.9 289.9 391.4 290 389.3C290.1 387.1 288.9 384.6 289.3 383.6C289.6 382.5 291.9 381.4 292.1 382.9C292.4 384.3 290.7 389.2 290.7 392.1C290.7 395.1 291.8 398.5 292.1 400.7C292.5 403 293.5 405.1 292.9 405.7C292.3 406.3 289.3 405.8 288.6 404.3C287.9 402.7 288.3 398.9 288.6 396.4Z" fill="#ffffff"/>
<path d="M276.1 317.9C276.4 317.3 277.8 316.9 278.6 316.9C279.3 316.9 280.5 317.3 280.7 317.9C281 318.4 280.6 319.6 280 320C279.4 320.4 277.8 320.4 277.1 320C276.5 319.6 275.9 318.4 276.1 317.9Z" fill="#ffffff"/>
<path d="M173.6 318.6C173.8 326.9 173.1 318.5 175 318.7C176.9 318.9 183.3 320.1 185 319.7C186.7 319.3 183.5 317 185.4 316.4C187.3 315.8 193 315.5 196.4 316C199.8 316.5 204.5 317.4 205.7 319.3C206.9 321.1 204.4 324.6 203.6 327.1C202.7 329.6 201.1 332.4 200.7 334.3C200.4 336.2 201 336.3 201.4 338.6C201.9 340.8 202.1 346 203.6 347.9C205 349.8 207.9 348.6 210 350C212.1 351.4 214.2 354.4 216.2 356.2C218.3 358.1 221.6 360.4 222.5 361.2C223.4 362.1 221 361.8 221.4 361.4C221.8 361.1 223.9 360.7 225 359.3C226.1 357.9 226.4 354.3 227.9 352.9C229.3 351.4 231.1 350.8 233.6 350.7C236.1 350.6 240.8 351.2 242.9 352.1C244.9 353.1 244.3 354.8 245.7 356.4C247.1 358.1 250 360 251.4 362.1C252.9 364.3 253.6 367.7 254.3 369.3C255 370.8 255.1 371.4 255.7 371.4C256.3 371.4 256.5 369.9 257.9 369.3C259.2 368.7 261.2 368.8 263.6 367.9C266 366.9 269.8 365 272.1 363.6C274.5 362.1 276.2 360.1 277.9 359.3C279.5 358.5 281.5 357.9 282.1 358.6C282.7 359.3 282.1 361.8 281.4 363.6C280.7 365.4 278.3 367.1 277.9 369.3C277.4 371.4 278.8 374.4 278.6 376.4C278.4 378.5 276.6 380.1 276.7 381.4C276.8 382.7 277.9 384 279.3 384.3C280.7 384.5 283.3 383.6 285 382.9C286.7 382.1 288 380 289.3 380C290.6 380 291.4 383.5 292.9 382.9C294.3 382.3 295.6 378.5 297.9 376.4C300.1 374.4 305 372.6 306.4 370.7C307.9 368.8 306.9 367.1 306.4 365C306 362.9 305 359.5 303.6 357.9C302.1 356.2 299.3 356.2 297.9 355C296.4 353.8 295 352.6 295 350.7C295 348.8 296.9 346.2 297.9 343.6C298.8 341 300 336.8 300.7 335C301.4 333.2 302.1 334.2 302.1 332.9C302.1 331.5 301.7 328.6 300.7 327.1C299.8 325.7 298.3 324.5 296.4 324.3C294.5 324 291.4 324.5 289.3 325.7C287.1 326.9 285.7 329.8 283.6 331.4C281.4 333.1 278.1 335.5 276.4 335.7C274.8 336 273.8 334.5 273.6 332.9C273.3 331.2 275.7 327.4 275 325.7C274.3 324 271 323.8 269.3 322.9C267.6 321.9 265 321.7 265 320C265 318.3 267.6 315.2 269.3 312.9C271 310.5 273.1 308.3 275 305.7C276.9 303.1 279.2 300 280.7 297.1C282.3 294.3 283.2 291.7 284.3 288.6C285.4 285.5 286.3 281.9 287.1 278.6C288 275.2 308.2 270.2 289.3 268.6C270.4 266.9 192.9 260.2 173.6 268.6C154.3 276.9 173.3 310.2 173.6 318.6Z" fill="#fcd37f"/>
<path d="M284.3 370C284.4 369.2 286.3 368.8 287.1 369.3C288 369.8 289.4 372 289.3 372.9C289.2 373.7 287.3 374.8 286.4 374.3C285.6 373.8 284.2 370.8 284.3 370Z" fill="#fcd37f"/>
<path d="M281.4 395.7C282 394.8 283.6 393.9 284.3 394.3C285 394.6 285.8 396.7 285.7 397.9C285.6 399 284.4 401.1 283.6 401.4C282.8 401.8 281.4 401 281 400C280.6 399 280.9 396.7 281.4 395.7Z" fill="#fcd37f"/>
<path d="M216.4 327.1C217.5 325.7 219.5 322.3 222.1 322.1C224.8 322 228.8 325.1 232.1 326.4C235.5 327.7 239 328.2 242.1 330C245.2 331.8 248.6 335.2 250.7 337.1C252.9 339 253.8 340.1 255 341.4C256.2 342.7 256.4 345 257.9 345C259.3 345 262.3 341.7 263.6 341.4C264.9 341.2 266.2 342.5 265.7 343.6C265.2 344.6 261.3 346.4 260.7 347.9C260.1 349.3 262.6 350.8 262.1 352.1C261.7 353.5 259.8 355 257.9 355.7C256 356.4 252.7 356.5 250.7 356.4C248.7 356.3 247 356 245.7 355C244.4 354 243.7 352.6 242.9 350.7C242 348.8 241.8 345.5 240.7 343.6C239.6 341.7 237.1 340.1 236.4 339.3C235.7 338.5 237.6 339.2 236.4 338.6C235.2 338 231.9 336.4 229.3 335.7C226.7 335 223 335.1 220.7 334.3C218.5 333.5 216.4 331.9 215.7 330.7C215 329.5 215.4 328.6 216.4 327.1Z" fill="#ffff00"/>
<path d="M245.7 340.7C246.1 340 248.5 339.6 249.3 340C250.1 340.4 251.1 342.1 250.7 342.9C250.4 343.6 248 344.6 247.1 344.3C246.3 343.9 245.4 341.4 245.7 340.7Z" fill="#fcd37f"/>
<path d="M173.6 306.9C173.8 313.2 174 306.9 175 306.4C176 306 176.9 304.5 179.3 304.3C181.7 304 186.7 305.1 189.3 305C191.9 304.9 192.6 304 195 303.6C197.4 303.1 200.2 302.4 203.6 302.1C206.9 301.9 211.9 301.5 215 302.1C218.1 302.7 220.1 304.4 222.1 305.7C224.2 307 226.1 308.3 227.1 310C228.2 311.7 227.3 314.4 228.6 315.7C229.9 317 232.5 317.9 235 317.9C237.5 317.9 240.7 315.8 243.6 315.7C246.4 315.6 250.2 317.2 252.1 317.1C254 317.1 253.3 316.7 255 315.4C256.7 314.1 259.8 310.9 262.1 309.3C264.5 307.7 266.9 307.5 269.3 305.7C271.7 303.9 274.4 301.2 276.4 298.6C278.5 296 280 293.3 281.4 290C282.9 286.7 284 282.1 285 278.6C286 275 305.7 270.2 287.1 268.6C268.6 266.9 192.5 262.2 173.6 268.6C154.6 275 173.3 300.5 173.6 306.9Z" fill="#ffaa00"/>
<path d="M287.9 330C288.7 328.7 290.6 326.9 292.1 326.4C293.7 326 296.1 326.3 297.1 327.1C298.2 328 298.9 329.8 298.6 331.4C298.2 333.1 296.5 336.1 295 337.1C293.5 338.2 290.6 338.3 289.3 337.9C288 337.4 287.4 335.6 287.1 334.3C286.9 333 287 331.3 287.9 330Z" fill="#ffaa00"/>
<path d="M230 268.6C220.6 270 227.5 274.8 227.9 277.1C228.2 279.5 230.2 281.5 232.1 282.9C234 284.2 236.9 284.8 239.3 285C241.7 285.2 244.2 283.9 246.4 284.3C248.7 284.6 252.6 286 252.9 287.1C253.1 288.3 250.4 290 247.9 291.4C245.4 292.9 240.5 294.5 237.9 295.7C235.2 296.9 233.2 297.4 232.1 298.6C231.1 299.8 231 301.7 231.4 302.9C231.9 304 232.5 305.1 235 305.7C237.5 306.3 242.9 306.3 246.4 306.4C250 306.5 253.8 306.9 256.4 306.4C259 306 260 304.5 262.1 303.6C264.3 302.6 267.1 302 269.3 300.7C271.4 299.4 273.3 298 275 295.7C276.7 293.5 278.1 290 279.3 287.1C280.5 284.3 281.3 281.7 282.1 278.6C283 275.5 293 270.2 284.3 268.6C275.6 266.9 239.4 267.1 230 268.6Z" fill="#e60000"/>
<path d="M202.1 269.3C203.3 270.1 207.4 272 209.3 274.3C211.2 276.5 213 280 213.6 282.9C214.2 285.7 212.9 288.1 212.9 291.4C212.9 294.8 213.8 299.5 213.6 302.9C213.3 306.2 211 308.6 211.4 311.4C211.9 314.3 214.6 317.4 216.4 320C218.2 322.6 219.5 325.2 222.1 327.1C224.8 329 229.3 329.8 232.1 331.4C235 333.1 237.7 334.4 239.3 337.1C240.8 339.9 241.1 346.1 241.4 347.9M225 283.6C226.7 284.2 231.7 285.8 235 287.1C238.3 288.5 242.1 288.8 245 291.4C247.9 294 250 300.6 252.1 302.9C254.3 305.1 256 304.9 257.9 305C259.8 305.1 261.7 304 263.6 303.6C265.5 303.1 267.4 302.6 269.3 302.1C271.2 301.7 274 301 275 300.7M230 274.3C231.3 274 235.1 273.7 237.9 272.9C240.6 272 245 269.9 246.4 269.3M232.1 282.1C233.8 281.5 239 278.2 242.1 278.6C245.2 278.9 247.6 283.1 250.7 284.3C253.8 285.5 258.1 285 260.7 285.7C263.3 286.4 265.5 288.1 266.4 288.6M190.7 269.3C189.9 271.3 187.4 277 185.7 281.4C184 285.8 182 291.7 180.7 295.7C179.4 299.8 177.6 302.9 177.9 305.7C178.1 308.6 181.1 311 182.1 312.9C183.2 314.8 183.9 316.4 184.3 317.1M279.3 269.3C280 270.1 281.7 272.5 283.6 274.3C285.5 276.1 287.6 278.6 290.7 280C293.8 281.4 298.6 283.1 302.1 282.9C305.7 282.6 309.5 279.6 312.1 278.6C314.8 277.5 316.2 277.1 317.9 276.4C319.5 275.7 320.7 274.4 322.1 274.3C323.6 274.2 324.3 275.5 326.4 275.7C328.6 276 332.1 275.2 335 275.7C337.9 276.2 341 277.1 343.6 278.6C346.2 280 348.8 282.3 350.7 284.3C352.6 286.3 353.8 289.3 355 290.7C356.2 292.1 357.4 292.5 357.9 292.9M255 305C256.2 304.6 259.8 303.6 262.1 302.9C264.5 302.1 267.1 300.6 269.3 300.7C271.4 300.8 273.1 302.1 275 303.6C276.9 305 278.6 307.3 280.7 309.3C282.9 311.3 286 313.5 287.9 315.7C289.8 318 290.7 320.5 292.1 322.9C293.6 325.2 294.8 327.1 296.4 330C298.1 332.9 300.2 337 302.1 340C304 343 306.9 346.5 307.9 347.9M332.9 300.7C333.3 301.3 335.5 302.7 335.7 304.3C336 305.8 334.4 308.1 334.3 310C334.2 311.9 333.9 313.8 335 315.7C336.1 317.6 338.6 319.3 340.7 321.4C342.9 323.6 345.5 326.4 347.9 328.6C350.2 330.7 353.3 332.9 355 334.3C356.7 335.7 357.4 336.7 357.9 337.1M298.6 334.3C299.2 335.6 300.6 339.9 302.1 342.1C303.7 344.4 306.7 345.7 307.9 347.9C309 350 308.1 352.4 309.3 355C310.5 357.6 314 362.1 315 363.6M236.4 334.3C237.1 335.6 239.6 339.4 240.7 342.1C241.8 344.9 242.3 348.9 242.9 350.7C243.5 352.5 244 352.5 244.3 352.9" fill="none" stroke="#1a88f5" stroke-width="1.0" stroke-linejoin="round" stroke-linecap="round"/>
<path d="M230 269.3L227.9 285.7L225.7 320M173.6 318.6L185 319.7L185.4 316.4L226.4 320.3M264.3 269.3L263.6 285.7M263.6 285.7L270.7 290.7L277.9 292.9L286.4 295L290.7 297.9L296.4 298.6L300.7 296.4L305 299.3L312.1 297.1L319.3 296.4L323.6 299.3L327.1 300.7L332.1 300.7M326.4 269.3L327.1 300.7M332.1 300.7L332.1 308.6M332.1 308.6L357.9 308.3M332.1 308.6L332.9 322.9L337.1 330L338.6 337.1L336.4 347.9" fill="none" stroke="#000" stroke-width="0.85" stroke-linejoin="round" stroke-linecap="round"/>
<path d="M185.2 319.5L190 325L197 332.8L202.8 339.2L204.2 345L210 350L216.2 356.2L222.5 361.2L221.4 361.4L225 359.3L227.9 352.9L233.6 350.7L242.9 352.1L245.7 356.4L251.4 362.1L254.3 369.3L257.9 375.7L262.1 380.7L265 386.4L265.7 392.1L270 399.3L276.4 402.1L285 405.7L291.4 408.6L294.3 406.4L292.9 400.7L290.7 392.1L292.9 383.6L297.9 376.4L306.4 370.7L315 367.1L322.5 360L325 355L330 356.2L340 354.5L351.2 355M292.1 382.1C291.8 383.8 290 389 290 392.1C290 395.2 291.5 398.3 292.1 400.7C292.7 403.1 293.3 405.5 293.6 406.4" fill="none" stroke="#000" stroke-width="1.15" stroke-linejoin="round" stroke-linecap="round"/>
<path d="M202.9 290C202.6 291.2 202.6 295.1 201.4 297.1C200.2 299.2 197.6 300.8 195.7 302.1C193.8 303.5 191.9 304.8 190 305C188.1 305.2 186.2 303.6 184.3 303.6C182.4 303.6 180.2 304.2 178.6 305C176.9 305.8 176 307.6 174.3 308.6C172.6 309.5 170.5 310.2 168.6 310.7C166.7 311.2 164.5 310.8 162.9 311.4C161.2 312 159.6 313.2 158.6 314.3C157.5 315.4 156.9 316.5 156.4 317.9C156 319.2 156.1 321.4 156 322.1M191.4 269.3C191.7 270.4 191.5 273.7 192.9 275.7C194.2 277.7 197.6 279 199.3 281.4C201 283.8 202.3 288.6 202.9 290" fill="none" stroke="#000" stroke-width="1.9" stroke-linejoin="round" stroke-linecap="round"/>
</g>
<g clip-path="url(#c10)">
<path d="M366.2 356.2C366.7 354.9 369.2 352.3 371.2 351.2C373.3 350.2 376.7 350 378.8 350C380.8 350 383.1 349.8 383.8 351.2C384.4 352.7 384 357.1 382.5 358.8C381 360.4 377.3 361.1 375 361.2C372.7 361.4 370.2 360.3 368.8 359.5C367.3 358.7 365.8 357.6 366.2 356.2Z" fill="#ffff00"/>
<path d="M402.2 298.8C402.5 297.4 404 295.6 405.8 294.2C407.5 292.9 410 291.5 412.5 290.8C415 290 418.8 290.5 420.5 289.5C422.2 288.5 422.2 286.6 422.8 285C423.3 283.4 423 281.5 423.8 280C424.5 278.5 425.8 276.7 427.5 276.2C429.2 275.8 432.3 276.5 433.8 277.5C435.2 278.5 435.6 281.2 436.2 282.5C436.9 283.8 438.1 283.8 437.8 285C437.4 286.2 436 288.4 434.2 289.5C432.5 290.6 429.8 291 427.5 291.8C425.2 292.5 422.6 293.3 420.5 294.2C418.4 295.2 416.5 296.2 414.8 297.5C413 298.8 412 301.5 410.2 302.2C408.5 303 405.8 302.8 404.5 302.2C403.2 301.7 402 300.1 402.2 298.8Z" fill="#ffff00"/>
<path d="M400 328.8L401.2 322.8L406.8 318.2L414.8 314.8L422.8 310.8L429.8 307.2L434.2 303.8L436.5 301L442.2 297.5L449.2 294.8L457.2 289.5L462.8 285.5L469.8 283.2L478.8 281L485.8 277.5L490.2 274.8L494.8 273.5L499.5 275.8L501.8 278.8L503.5 283.2L503.5 284.5L501.8 290.2L497.2 295.8L491.5 300.5L486.8 305L484.5 310.8L484 315L482 320L480.5 322.8L477.2 325.8L470.2 328.5L463.5 333.2L457.8 338.8L454.2 341.2L453.2 340.5L448.5 340L445.2 345.2L441.8 348.5L437.2 345.2L434.8 340L433.2 340L438.2 336.5L441.2 333.5L438.2 330.8L437.2 326.2L437.8 320L434.2 321.5L427.5 325.5L419.5 329L411.5 330.8L403 334L403.5 337L400.8 340L399.5 333.8Z" fill="#ffff00"/>
<path d="M482.5 355C482.9 352.7 484.8 350.8 486.2 350C487.7 349.2 489.8 349 491.2 350C492.7 351 494 353.8 495 356.2C496 358.8 497.3 362.7 497.5 365C497.7 367.3 497.5 369.4 496.2 370C495 370.6 492.1 369.8 490 368.8C487.9 367.7 485 366 483.8 363.8C482.5 361.5 482.1 357.3 482.5 355Z" fill="#ffff00"/>
<path d="M486.2 386.2C486.7 384.6 488.3 382.3 490 381.2C491.7 380.2 494.6 380.8 496.2 380C497.9 379.2 498.3 377.1 500 376.2C501.7 375.4 504.8 373.5 506.2 375C507.7 376.5 508.3 381.7 508.8 385C509.2 388.3 509.4 392.1 508.8 395C508.1 397.9 506.9 401.5 505 402.5C503.1 403.5 499.6 402.5 497.5 401.2C495.4 400 494.2 396.7 492.5 395C490.8 393.3 488.5 392.7 487.5 391.2C486.5 389.8 485.8 387.9 486.2 386.2Z" fill="#ffff00"/>
<path d="M438.8 317.2C439.2 316.5 440.7 316.7 441.2 317.2C441.8 317.8 441.4 319.5 442.2 320.5C443.1 321.5 445.4 322.3 446.2 323.5C447.1 324.7 447.7 326.3 447.5 327.5C447.3 328.7 446.1 330.1 445.2 330.8C444.4 331.4 443.1 332.2 442.2 331.5C441.4 330.8 440.7 327.9 440 326.2C439.3 324.6 438.5 323.2 438.2 321.8C438 320.2 438.2 318 438.8 317.2Z" fill="#ffffff"/>
<path d="M401.2 326.2C402.2 324.7 404.5 322.8 406.8 321.5C409 320.2 412.1 319.5 414.8 318.2C417.4 317 420.2 315.5 422.8 314.2C425.2 313 427.5 312 429.8 310.8C432 309.5 435 308.2 436.5 306.8C438 305.3 437.2 303.5 438.8 302.2C440.3 301 443.6 299.8 445.8 299.2C447.9 298.7 449.4 299.2 451.5 298.8C453.6 298.3 456.5 297.5 458.2 296.5C460 295.5 460 294 461.8 293C463.5 292 466.6 290.7 468.5 290.8C470.4 290.8 472.6 292.4 473 293.5C473.4 294.6 471.7 296.2 470.8 297.5C469.8 298.8 468.2 299.7 467.5 301C466.8 302.3 466.5 304.2 466.2 305.5C466 306.8 466.5 308.1 465.8 309C465 309.9 463.2 310.7 461.8 310.8C460.3 310.8 458.8 309.3 457.2 309.5C455.7 309.7 453.8 310.6 452.5 311.8C451.2 312.9 450.6 315.2 449.2 316.5C447.9 317.8 446.2 319.1 444.5 319.2C442.8 319.4 440.6 317.4 438.8 317.5C436.9 317.6 435.3 318.7 433.2 319.8C431.2 320.8 428.8 322.5 426.2 323.8C423.8 325 420.7 326.4 418.2 327.2C415.8 328.1 413.8 328.2 411.5 329C409.2 329.8 406.2 331.5 404.5 331.8C402.8 332 401.8 331.7 401.2 330.8C400.7 329.8 400.3 327.8 401.2 326.2Z" fill="#fcd37f"/>
<path d="M450.2 323.8L454.8 320.5L461.8 318.2L467.5 313.5L469.8 309L474.2 304.5L480 300.5L484.5 297L488 292.5L491.5 287.2L494.8 283.8L499.5 282.8L503.5 283.8L503.5 284.5L501.8 290.2L497.2 295.8L491.5 300.5L486.8 305L484.5 310.8L484 315L482 320L479 321.8L476.2 324.2L469.5 327L462.5 331.5L456.8 337L453.5 340L448.5 340L445.2 345.2L441.8 348.5L437.2 345.2L434.8 340L440.5 335.5L442.8 333.8L449.2 330L451.8 327.5Z" fill="#fcd37f"/>
<path d="M470.8 315C471.2 313.8 472.8 312.6 473.8 312.5C474.7 312.4 476 313.4 476.5 314.5C477 315.6 477 318 476.5 319C476 320 474.7 320.7 473.8 320.8C472.8 320.8 471.2 320.5 470.8 319.5C470.2 318.5 470.2 316.2 470.8 315Z" fill="#ffaa00"/>
<path d="M495.5 376.2C496 375.4 497.9 374.7 498.8 375C499.6 375.3 500.8 377 500.8 378C500.8 379 499.6 380.9 498.8 381.2C497.9 381.6 496.3 380.8 495.8 380C495.2 379.2 495 377.1 495.5 376.2Z" fill="#97d6f5" stroke="#45a0f0" stroke-width="0.5"/>
<path d="M348.8 283.8C350.2 284.8 354.8 288.1 357.5 290C360.2 291.9 363.8 294.2 365 295M348.8 331.2C350.2 331.7 355.4 332.9 357.5 333.8C359.6 334.6 360.6 335.8 361.2 336.2M428.5 286.2C427.5 287.2 424.2 289.7 422.8 291.8C421.2 293.8 419.9 296.5 419.5 298.8C419.1 301 420 303.6 420.5 305.5C421 307.4 423.5 308.9 422.8 310.2C422 311.6 418.1 312.2 416 313.5C413.9 314.8 411.6 316.3 410.2 318.2C408.9 320.2 409 322.5 408 325C407 327.5 404.8 330.9 404.5 333C404.2 335.1 406 336.8 406.2 337.5M400 278.8C401.7 279.4 406.2 282.1 410 282.5C413.8 282.9 418.8 283.5 422.5 281.2C426.2 279 430.8 270.8 432.5 268.8M445.8 285C444.8 286 441.7 288.8 440 290.8C438.3 292.7 436.5 294.8 435.5 296.5C434.5 298.2 434.5 300.2 434.2 301M492 268.8C492.9 269.9 495.6 273 497.5 275.5C499.4 278 502.5 282.2 503.5 283.5M486.2 350C487.3 350.8 490.8 353.1 492.5 355C494.2 356.9 496.2 359.8 496.2 361.2C496.2 362.7 493.1 363.3 492.5 363.8M382.5 350C383.3 351 386 354.6 387.5 356.2C389 357.9 390.6 359.4 391.2 360" fill="none" stroke="#1a88f5" stroke-width="1.0" stroke-linejoin="round" stroke-linecap="round"/>
<path d="M377.5 268.8C376.9 270.6 375.4 276.5 373.8 280C372.1 283.5 369 286.7 367.5 290C366 293.3 365.2 296.9 365 300C364.8 303.1 365.6 306 366.2 308.8C366.9 311.5 369 313.5 368.8 316.2C368.5 319 366 322.3 365 325C364 327.7 363.1 330.6 362.5 332.5C361.9 334.4 361.5 335.6 361.2 336.2M348.8 308.8L366.2 308.8M361.2 336.2L382.5 335.5L383.8 342.5L386.2 347.5L387.5 350M397.5 278.2L398.8 327.5L400 343M375 279.5L397.5 278.2L427.5 275.5L453.8 272L461.2 268.8M427.5 275.5L432.5 297.5L437.5 310L438.8 320L440 331.2L441.2 333.8M408.8 332.5L440 331M408.8 332.5L410 338.8M441.2 333.8L475 331.2L476.2 327.5L480 328.8L481.2 326.2M453.8 272C454.8 273.3 457.7 277 460 280C462.3 283 465 287.1 467.5 290C470 292.9 472.9 294.6 475 297.5C477.1 300.4 478.5 305 480 307.5C481.5 310 483.1 311.7 483.8 312.5M488.8 267.5L492 268.5L496 270.8L508 280" fill="none" stroke="#000" stroke-width="0.85" stroke-linejoin="round" stroke-linecap="round"/>
<path d="M348.8 356.5L357.5 353.8L362.5 356.2L367.5 358L375 361.5L382.5 359L387.5 356.5L391.2 362.5L394 358.8L395 350.5L390 347.5L387.5 350L392.5 345L400 343L403.8 341.2L406.2 343.8L410 338.8L417.5 340L425 337.5L430 341.2L435 343.8L438.8 347.5L443.8 346.2L448.8 342.5L455 341.2L461.2 347.5L467.5 352.5L472.5 360L473.8 370L477.5 377.5L482.5 385L486.2 390L492.5 395L497.5 401.2L505 402.5L508.8 395L508.8 385L506.2 375L501.2 365L496.2 355L491.2 345L486.2 337.5L482.5 330L481.2 322.5L482.5 316.2L483.8 311.2L487.5 305L495 297.5L500 290L505 283.8L511.2 278.8L516.2 275L519.5 268.8M481.8 321.2L484.2 311.2L488 304.2L495.5 296.8" fill="none" stroke="#000" stroke-width="1.15" stroke-linejoin="round" stroke-linecap="round"/>
</g>
<g clip-path="url(#c11)">
<path d="M87.5 467.5L92.5 467.5L100 472.5L110 476.2L110 482.5L103.8 487.5L96.2 490L87.5 487.5L83.8 483.8L82.5 477.5L86.2 472.5Z" fill="#ffff00"/>
<path d="M127.5 483.8L132.5 484.5L140 486.2L147.5 492.5L156.2 497L157 501L150 501L142.5 493.8L136.2 488L128.8 485.5Z" fill="#ffff00"/>
<path d="M121.2 453.8C120.2 454.2 117.3 454.6 115 456.2C112.7 457.9 110 462.1 107.5 463.8C105 465.4 102.3 466 100 466.2C97.7 466.5 95.4 464.2 93.8 465C92.1 465.8 91.5 469.2 90 471.2C88.5 473.3 86.9 476.5 85 477.5C83.1 478.5 79.8 477.5 78.8 477.5M115 456.2C115.8 457.3 118.8 460.2 120 462.5C121.2 464.8 122.1 468.8 122.5 470M111.2 475C110.2 475.2 107.3 475.4 105 476.2C102.7 477.1 100 479.4 97.5 480C95 480.6 92.3 479.6 90 480C87.7 480.4 85.2 481.5 83.8 482.5C82.3 483.5 81.7 485.6 81.2 486.2M103.8 468.8C102.9 469.8 100.6 473.1 98.8 475C96.9 476.9 93.5 479.2 92.5 480M90 448.8C91.2 448.5 95.2 448.3 97.5 447.5C99.8 446.7 102.7 444.4 103.8 443.8M107.5 455C106.5 455.6 103.3 457.5 101.2 458.8C99.2 460 96 461.9 95 462.5" fill="none" stroke="#1a88f5" stroke-width="1.0" stroke-linejoin="round" stroke-linecap="round"/>
<path d="M122.5 445L127.5 483" fill="none" stroke="#000" stroke-width="0.85" stroke-linejoin="round" stroke-linecap="round"/>
<path d="M86.2 443.8L91.2 440L97.5 438L105 441.2L120 442.5L122.5 445M127.5 483L132.5 485L140 487.5L147.5 493.8L156.2 497.5L157.5 501.2L150 501.2L142.5 493.8L136.2 487.5L130 486.2L125 485.5L117.5 482.5L112.5 485L107.5 488.8L103.8 492.5L100 497.5L95 501.2L87.5 505L80 507.5L70 511.2L60 513.8L50 514.5L40 513L32.5 511.2M86.2 443.8L80 448.8L81.2 455L86.2 458.8L77.5 458.8L75 463.8L80 466.2L85 468.8L80 473.8L76.2 478.8L75 483.8L71.2 485L77.5 486.2L81.2 491.2L87.5 492.5L95 491.2L100 490L103.8 492.5M136.2 487L139 485.5L140 488.5L143 488L142.5 491.5L146 491L145.5 494.5L149 493.5L149 497L152.5 495.5L151.5 499.5L155.5 497.5L154.5 501L157.5 500M138 489L141.5 491L144 494L147.5 496.5L151 500M141.5 486.5L145 490L149.5 492.5L154 496L157 498.5" fill="none" stroke="#000" stroke-width="1.15" stroke-linejoin="round" stroke-linecap="round"/>
<path d="M100 497.5L103 495L104 498L101 501L99 500.5Z" fill="#000"/>
<path d="M110 483L115 481.5L117.5 483.5L113.8 485.5L110.5 485.5Z" fill="#000"/>
<path d="M66.2 467.5L69.5 467L70.5 470.5L67.5 471.5Z" fill="#000"/>
<path d="M59.5 479L61 479L61 481.5L59.5 481.5Z" fill="#000"/>
<path d="M61 495.5L62.5 495.5L62.5 498L61 498Z" fill="#000"/>
<path d="M15 496.2L18 497L18.5 500L16 499.5Z" fill="#000"/>
<path d="M24.5 506L29.5 507.5L30.5 509.5L25.5 508.5Z" fill="#000"/>
<path d="M75 506.2L85 504.5L86.2 507L77.5 508.8Z" fill="#000"/>
<path d="M82.5 504.5L90 502L98 498L101 494L105 490L109 487L112.5 484.5L114 486L110 489L106 492.5L102.5 496.5L99 500.5L91 504.5L83.5 507Z" fill="#000"/>
<path d="M12.5 431.2L165.5 431.2L165.5 527.5L12.5 527.5L12.5 431.2" fill="none" stroke="#4a4a4a" stroke-width="1.0" stroke-linejoin="round" stroke-linecap="round"/>
</g>
<g clip-path="url(#c12)">
<path d="M278.8 402.5L280 405L286.2 407L292.5 408.2L294.5 405L294.5 402.5Z" fill="#ffff00"/>
<path d="M288.8 402.5L290.5 407L292.5 408L293.5 402.5Z" fill="#ffffff"/>
<path d="M197 456.2L200 452.5L201 453.8L198.8 457.5L197 456.2M207.5 450C208.1 449.6 209.6 447.9 211.2 447.5C212.9 447.1 216.1 446.9 217.5 447.5C218.9 448.1 219.5 450 219.5 451.2C219.5 452.5 218.7 454.2 217.5 455C216.3 455.8 214 456 212.5 455.8C211 455.5 209.6 454.7 208.8 453.8C207.9 452.8 207.7 450.6 207.5 450M242 462.5L248.8 458.8L251.2 463.8L255 466.2L255.5 469.5L250 468L246.2 468.8L243.8 465.5L242 462.5M263.8 471.2L271.2 470L277.5 471.2L275 473.8L268.8 473.8L265 473L263.8 471.2M269.5 477.5L273 477L275.5 479.5L273.8 481.5L270.5 480L269.5 477.5M278 476.2C278.5 476 280.3 474.3 281.2 474.5C282.2 474.7 282.5 477.2 283.8 477.5C285 477.8 287.1 475.9 288.8 476.2C290.4 476.6 292.8 478.5 293.8 479.5C294.7 480.5 295.1 481.6 294.5 482.5C293.9 483.4 291.6 484.8 290 485C288.4 485.2 286.2 484.6 285 483.8C283.8 482.9 283.4 480.7 282.5 480C281.6 479.3 280.2 480.1 279.5 479.5C278.8 478.9 278.2 476.8 278 476.2M277.5 485.5L280.5 484.5L282 486.2L278.8 487L277.5 485.5M296.2 492C296.9 492.1 298.1 491.9 300 492.5C301.9 493.1 305 494.2 307.5 495.5C310 496.8 312.9 498.2 315 500C317.1 501.8 319 504.7 320 506.2C321 507.8 321.6 508.2 320.8 509.5C319.9 510.8 317.2 512.6 315 513.8C312.8 514.9 309.8 514.8 307.5 516.2C305.2 517.7 303.1 522 301.2 522.5C299.4 523 297.3 521.2 296.2 519.5C295.2 517.8 295.6 514.7 295 512.5C294.4 510.3 292.8 508.1 292.5 506.2C292.2 504.4 292.5 502.9 293 501.2C293.5 499.6 295 497.8 295.5 496.2C296 494.7 296.1 492.7 296.2 492" fill="none" stroke="#000" stroke-width="0.85" stroke-linejoin="round" stroke-linecap="round"/>
<path d="M275 402.5L280 405L286.2 407L292.5 408.2L294.5 405L294 402.5" fill="none" stroke="#000" stroke-width="1.15" stroke-linejoin="round" stroke-linecap="round"/>
<path d="M178.5 431.2L331.5 431.2L331.5 527.5L178.5 527.5L178.5 431.2M343.8 431.2L355 431.2M343.8 527.5L355 527.5M343.8 431.2L343.8 527.5" fill="none" stroke="#4a4a4a" stroke-width="1.0" stroke-linejoin="round" stroke-linecap="round"/>
</g>
<g clip-path="url(#c13)">
<path d="M375 470.5C375.6 470.2 376.2 468.9 378.8 468.8C381.2 468.6 386 469.2 390 469.5C394 469.8 398.3 470.2 402.5 470.5C406.7 470.8 411.2 471 415 471.2C418.8 471.5 422.3 471.6 425 472C427.7 472.4 429.9 472.8 431.2 473.8C432.6 474.7 433.2 476.2 433 477.5C432.8 478.8 431.3 480 430 481.2C428.7 482.5 427.1 483.8 425 485C422.9 486.2 420.4 488 417.5 488.8C414.6 489.5 410.8 489.5 407.5 489.5C404.2 489.5 400.8 489 397.5 488.8C394.2 488.5 390.6 487.9 387.5 488C384.4 488.1 380.8 489.5 378.8 489.5C376.7 489.5 375.4 489.6 375 488C374.6 486.4 376.5 482.2 376.2 480C376 477.8 374 476.6 373.8 475C373.5 473.4 374.8 471.2 375 470.5M435 483.8L442.5 481.8L446.2 482.5L440 485L435 483.8M442.5 476.2L447.5 475.8L447 477.5L442.5 476.2" fill="none" stroke="#000" stroke-width="0.85" stroke-linejoin="round" stroke-linecap="round"/>
<path d="M348.8 483.8L352 484.5L350 485.5M476.2 413.8C477.9 413.5 483.1 413.1 486.2 412.5C489.4 411.9 492.3 410.9 495 410C497.7 409.1 500.5 408 502.5 407C504.5 406 506.2 404.3 507 403.8" fill="none" stroke="#000" stroke-width="1.15" stroke-linejoin="round" stroke-linecap="round"/>
<path d="M490 411L495 409L500 407L501 408L496 410.5L491 412.5Z" fill="#000"/>
<path d="M342.5 431.2L452 431.2L452 527.5L342.5 527.5" fill="none" stroke="#4a4a4a" stroke-width="1.0" stroke-linejoin="round" stroke-linecap="round"/>
</g>
<!-- legend squiggle -->
<path d="M537.4 291 C537.6 288.6 538.6 286.2 540.6 285.9 C542.6 285.7 543.6 288.2 545.4 288 C547.2 287.8 548.2 285.8 548.9 283.9" fill="none" stroke="#000" stroke-width="1.9" stroke-linecap="round"/>
<!-- USDA -->
<g>
<text x="466.2" y="484.4" font-family="'Liberation Serif',serif" font-size="16.6" font-weight="bold" fill="#1c3c7a" textLength="40.6" lengthAdjust="spacingAndGlyphs">USDA</text>
<path d="M466.5 489.6 C480 487.4 495 487 506.8 487 L506.8 501.3 L466.5 501.3 Z" fill="#15624a"/>
<path d="M466.5 493.2 C480 489.6 494 488.8 506.8 488.9" fill="none" stroke="#fff" stroke-width="1.1"/>
<path d="M466.5 497.2 C476 492.5 486 490.6 497 489.9" fill="none" stroke="#fff" stroke-width="1"/>
</g>
<!-- NDMC -->
<g>
<defs>
<clipPath id="ndc"><circle cx="546.8" cy="487.8" r="16.3"/></clipPath>
<path id="ndt" d="M529.4 488.1 A17.4 17.4 0 0 1 564.2 488.1"/>
<path id="ndb" d="M526.8 488.1 A20 20 0 0 0 566.8 488.1"/>
</defs>
<circle cx="546.8" cy="487.9" r="20.9" fill="#fff" stroke="#6b5a45" stroke-width="0.35"/>
<text font-family="'Liberation Sans',sans-serif" font-size="2.7" font-weight="bold" fill="#6b5238" letter-spacing="0.1"><textPath href="#ndt" startOffset="50%" text-anchor="middle">NATIONAL DROUGHT MITIGATION CENTER</textPath></text>
<text font-family="'Liberation Sans',sans-serif" font-size="2.7" font-weight="bold" fill="#6b5238" letter-spacing="0.1"><textPath href="#ndb" startOffset="50%" text-anchor="middle">UNIVERSITY OF NEBRASKA</textPath></text>
<g clip-path="url(#ndc)">
<circle cx="546.8" cy="487.8" r="16.3" fill="#3c5a2b"/>
<path d="M528 492.5 C533 489.6 537 490.6 541 493.3 C545 496 549 495.6 553 493 C557 490.4 561 490.2 566 491.8 L566 510 L528 510 Z" fill="#6d8fd6"/>
<path d="M528 497.8 C533 495 537 495.8 541 498.2 C545 500.6 549 500 553 498 C557 496 561 495.6 566 497 L566 510 L528 510 Z" fill="#46301f"/>
<path d="M528 492.5 C533 490 537 491 541 493.5 C545 496 549 495.5 553 493 C557 490.8 561 490.5 566 492" fill="none" stroke="#fff" stroke-width="0.6"/>
</g>
<text x="534.5" y="490.2" font-family="'Liberation Sans',sans-serif" font-size="12.4" font-weight="bold" fill="#fff" stroke="#fff" stroke-width="0.3" textLength="24.4" lengthAdjust="spacingAndGlyphs">NDMC</text>
</g>
<!-- Dept of Commerce -->
<g>
<defs>
<path id="dct" d="M589.2 488.1 A16.9 16.9 0 0 1 623 488.1"/>
<path id="dcb" d="M587.2 488.1 A18.9 18.9 0 0 0 625 488.1"/>
</defs>
<circle cx="606.1" cy="488.1" r="20.8" fill="#2f8edb"/>
<circle cx="606.1" cy="488.1" r="20" fill="none" stroke="#fff" stroke-width="0.4"/>
<circle cx="606.1" cy="488.1" r="15.4" fill="#fff"/>
<text font-family="'Liberation Sans',sans-serif" font-size="3" font-weight="bold" fill="#fff" letter-spacing="0.15"><textPath href="#dct" startOffset="50%" text-anchor="middle">DEPARTMENT OF COMMERCE</textPath></text>
<text font-family="'Liberation Sans',sans-serif" font-size="3" font-weight="bold" fill="#fff" letter-spacing="0.15"><textPath href="#dcb" startOffset="50%" text-anchor="middle">UNITED STATES OF AMERICA</textPath></text>
<path d="M598 483 L614 483 L614 494.5 C614 498 610 500 606.1 501.8 C602.2 500 598 498 598 494.5 Z" fill="#f1b232" stroke="#2b4f8f" stroke-width="0.5"/>
<path d="M598 483 L614 483 L614 491 L598 491 Z" fill="#4a86d0" stroke="#2b4f8f" stroke-width="0.5"/>
<path d="M601.5 487.8 L610.5 487.8 L609.5 489.6 L602.5 489.6 Z M604 485 L608.5 485 L608.5 487.5 L604 487.5 Z" fill="#e8eef8"/>
<path d="M606.1 492 L607.1 499.5 L605.1 499.5 Z" fill="#7a5a20"/>
<path d="M606.1 483.2 C604.5 481.5 602.5 478 601 474.5 C603 476 604.8 477 606.1 479.5 C607.4 477 609.2 476 611.2 474.5 C609.7 478 607.7 481.5 606.1 483.2 Z" fill="#b98d2a"/>
<circle cx="606.1" cy="477.6" r="1.3" fill="#8a6a20"/>
</g>
<!-- NOAA -->
<g>
<defs>
<clipPath id="noc"><circle cx="666.7" cy="488.1" r="17.3"/></clipPath>
<path id="not" d="M647.7 488.1 A19 19 0 0 1 685.7 488.1"/>
<path id="nob" d="M645.9 488.1 A20.8 20.8 0 0 0 687.5 488.1"/>
</defs>
<text font-family="'Liberation Sans',sans-serif" font-size="2.2" fill="#8fa4c8" letter-spacing="0.05"><textPath href="#not" startOffset="50%" text-anchor="middle">NATIONAL OCEANIC AND ATMOSPHERIC ADMINISTRATION</textPath></text>
<text font-family="'Liberation Sans',sans-serif" font-size="2.2" fill="#8fa4c8" letter-spacing="0.05"><textPath href="#nob" startOffset="50%" text-anchor="middle">U.S. DEPARTMENT OF COMMERCE</textPath></text>
<g clip-path="url(#noc)">
<circle cx="666.7" cy="488.1" r="17.3" fill="#1d9be4"/>
<path d="M648 470 L686 470 L686 476 C680 480 674 488 668 492.5 C661 491.5 654 487 648 479 Z" fill="#1c2e85"/>
<path d="M648.6 481 C653 487 660 492 667.5 493.2 C673 489 679 481 685.5 476.5 C682 483 677 490 672.5 493.6 C676 493.2 679 492 682 490.5 C678 494.5 672 496.5 667 496.3 C659 495.5 652 489.5 648.6 481 Z" fill="#fff"/>
</g>
<text x="658.8" y="481.6" font-family="'Liberation Sans',sans-serif" font-size="6.6" font-weight="bold" fill="#fff" stroke="#fff" stroke-width="0.2" textLength="15.2" lengthAdjust="spacingAndGlyphs">NOAA</text>
</g>

</svg>
<div class="t" style="left:41.5px;top:18.7px;font-size:33.5px;font-weight:bold;font-style:italic;">U.S. Drought Monitor</div>
<div class="t" style="left:460.7px;width:200px;text-align:center;top:21px;font-size:17.8px;font-weight:bold;">March 6, 2018</div>
<div class="t" style="left:460.7px;width:200px;text-align:center;top:42.3px;font-size:10.7px;font-weight:bold;font-style:italic;">(Released Thursday, Mar. 8, 2018)</div>
<div class="t" style="left:460.7px;width:200px;text-align:center;top:58.2px;font-size:10.85px;font-weight:bold;">Valid 7 a.m. EST</div>

<!-- map labels -->
<div class="t lb" style="left:79.2px;top:120px;">S</div>
<div class="t lb" style="left:200px;top:93px;">L</div>
<div class="t lb" style="left:253.6px;top:113px;">SL</div>
<div class="t lb" style="left:322.6px;top:99.5px;">SL</div>
<div class="t lb" style="left:312px;top:132.4px;">S</div>
<div class="t lb" style="left:346.1px;top:193px;">SL</div>
<div class="t lb" style="left:339.3px;top:216.4px;">S</div>
<div class="t lb" style="left:154.9px;top:253.6px;">SL</div>
<div class="t lb" style="left:212.1px;top:269.7px;">S</div>
<div class="t lb" style="left:275.3px;top:269.7px;">S</div>
<div class="t lb" style="left:275.3px;top:347.1px;">S</div>
<div class="t lb" style="left:502.2px;top:236.2px;">L</div>
<div class="t lb" style="left:461.5px;top:306.2px;">S</div>
<div class="t lb" style="left:151.8px;top:487.5px;font-size:11px;">S</div>

<!-- author -->
<div class="t" style="left:19.5px;top:358.2px;font-size:10.5px;font-style:italic;"><u>Author:</u></div>
<div class="t" style="left:19.5px;top:371.6px;font-size:9.6px;">Richard Tinker</div>
<div class="t" style="left:19.5px;top:382.5px;font-size:9.6px;">CPC/NOAA/NWS/NCEP</div>

<!-- legend -->
<div class="t" style="left:536.6px;top:268.4px;font-size:10.65px;font-style:italic;"><u>Drought Impact Types:</u></div>
<div class="t" style="left:555.5px;top:283.9px;font-size:8.98px;">Delineates dominant impacts</div>
<div class="t bd" style="top:299.2px;"><b>S</b> = Short-Term, typically less than</div>
<div class="t bd" style="top:309.1px;">6 months (e.g. agriculture, grasslands)</div>
<div class="t bd" style="top:325.1px;"><b>L</b> = Long-Term, typically greater than</div>
<div class="t bd" style="top:335.3px;">6 months (e.g. hydrology, ecology)</div>
<div class="t" style="left:534.9px;top:348.5px;font-size:10.45px;font-style:italic;"><u>Intensity:</u></div>
<div class="bx" style="top:361.5px;background:#ffff00;"></div>
<div class="bx" style="top:373.2px;background:#fcd37f;"></div>
<div class="bx" style="top:384.8px;background:#e89b0a;"></div>
<div class="bx" style="top:396.5px;background:#e60000;"></div>
<div class="bx" style="top:408.1px;background:#730000;"></div>
<div class="t lg" style="top:361.5px;">D0 Abnormally Dry</div>
<div class="t lg" style="top:372.9px;">D1 Moderate Drought</div>
<div class="t lg" style="top:384.5px;">D2 Severe Drought</div>
<div class="t lg" style="top:396.2px;">D3 Extreme Drought</div>
<div class="t lg" style="top:407.8px;">D4 Exceptional Drought</div>
<div class="t ft" style="top:427.9px;">The Drought Monitor focuses on broad-</div>
<div class="t ft" style="top:437.2px;">scale conditions. Local conditions may</div>
<div class="t ft" style="top:446.4px;">vary. See accompanying text summary for</div>
<div class="t ft" style="top:455.4px;">forecast statements.</div>
<div class="t" style="left:465.5px;top:511.7px;font-size:15.39px;font-weight:bold;">http://droughtmonitor.unl.edu/</div>
</body></html>
